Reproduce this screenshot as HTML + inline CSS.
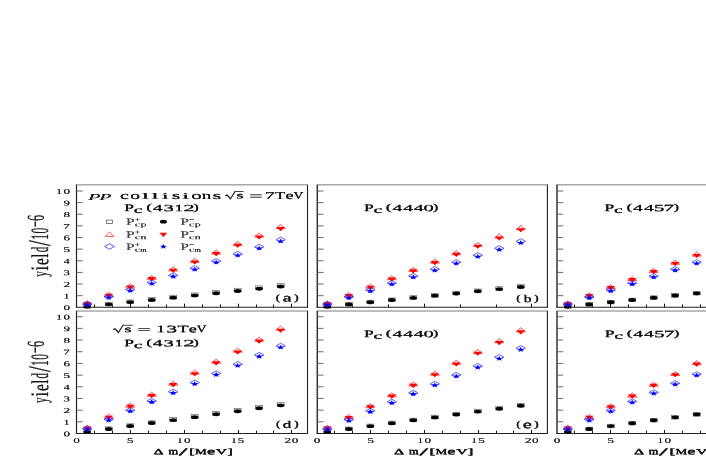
<!DOCTYPE html>
<html><head><meta charset="utf-8"><title>chart</title>
<style>html,body{margin:0;padding:0;background:#fff;}svg{display:block;will-change:transform;}</style></head>
<body>
<svg width="706" height="457" viewBox="0 0 706 457">
<rect width="706" height="457" fill="#fff"/>
<line x1="75.90" y1="184.80" x2="308.00" y2="184.80" stroke="#a8a8a8" stroke-width="1.5"/>
<line x1="76.50" y1="184.80" x2="76.50" y2="307.80" stroke="#222" stroke-width="1.2"/>
<line x1="307.50" y1="184.80" x2="307.50" y2="307.80" stroke="#222" stroke-width="1.1"/>
<line x1="75.90" y1="307.30" x2="308.00" y2="307.30" stroke="#222" stroke-width="1.1"/>
<line x1="76.50" y1="295.67" x2="82.70" y2="295.67" stroke="#5a5a5a" stroke-width="0.9"/>
<line x1="76.50" y1="284.04" x2="82.70" y2="284.04" stroke="#5a5a5a" stroke-width="0.9"/>
<line x1="76.50" y1="272.41" x2="82.70" y2="272.41" stroke="#5a5a5a" stroke-width="0.9"/>
<line x1="76.50" y1="260.78" x2="82.70" y2="260.78" stroke="#5a5a5a" stroke-width="0.9"/>
<line x1="76.50" y1="249.15" x2="82.70" y2="249.15" stroke="#5a5a5a" stroke-width="0.9"/>
<line x1="76.50" y1="237.52" x2="82.70" y2="237.52" stroke="#5a5a5a" stroke-width="0.9"/>
<line x1="76.50" y1="225.89" x2="82.70" y2="225.89" stroke="#5a5a5a" stroke-width="0.9"/>
<line x1="76.50" y1="214.26" x2="82.70" y2="214.26" stroke="#5a5a5a" stroke-width="0.9"/>
<line x1="76.50" y1="202.63" x2="82.70" y2="202.63" stroke="#5a5a5a" stroke-width="0.9"/>
<line x1="76.50" y1="191.00" x2="82.70" y2="191.00" stroke="#5a5a5a" stroke-width="0.9"/>
<line x1="94.50" y1="307.30" x2="94.50" y2="304.50" stroke="#111" stroke-width="1.0"/>
<line x1="112.50" y1="307.30" x2="112.50" y2="304.50" stroke="#111" stroke-width="1.0"/>
<line x1="130.50" y1="307.30" x2="130.50" y2="303.70" stroke="#111" stroke-width="1.0"/>
<line x1="148.50" y1="307.30" x2="148.50" y2="304.50" stroke="#111" stroke-width="1.0"/>
<line x1="166.50" y1="307.30" x2="166.50" y2="304.50" stroke="#111" stroke-width="1.0"/>
<line x1="184.50" y1="307.30" x2="184.50" y2="303.70" stroke="#111" stroke-width="1.0"/>
<line x1="202.50" y1="307.30" x2="202.50" y2="304.50" stroke="#111" stroke-width="1.0"/>
<line x1="220.50" y1="307.30" x2="220.50" y2="304.50" stroke="#111" stroke-width="1.0"/>
<line x1="238.50" y1="307.30" x2="238.50" y2="303.70" stroke="#111" stroke-width="1.0"/>
<line x1="256.50" y1="307.30" x2="256.50" y2="304.50" stroke="#111" stroke-width="1.0"/>
<line x1="273.50" y1="307.30" x2="273.50" y2="304.50" stroke="#111" stroke-width="1.0"/>
<line x1="291.50" y1="307.30" x2="291.50" y2="303.70" stroke="#111" stroke-width="1.0"/>
<rect x="83.75" y="304.57" width="7.0" height="3.6" fill="none" stroke="#555" stroke-width="0.6"/>
<ellipse cx="87.25" cy="306.58" rx="3.7" ry="1.95" fill="#000"/>
<rect x="105.23" y="302.24" width="7.0" height="3.6" fill="none" stroke="#555" stroke-width="0.6"/>
<ellipse cx="108.73" cy="304.35" rx="3.7" ry="1.95" fill="#000"/>
<rect x="126.72" y="299.91" width="7.0" height="3.6" fill="none" stroke="#555" stroke-width="0.6"/>
<ellipse cx="130.22" cy="302.12" rx="3.7" ry="1.95" fill="#000"/>
<rect x="148.21" y="297.58" width="7.0" height="3.6" fill="none" stroke="#555" stroke-width="0.6"/>
<ellipse cx="151.71" cy="299.88" rx="3.7" ry="1.95" fill="#000"/>
<rect x="169.70" y="295.24" width="7.0" height="3.6" fill="none" stroke="#555" stroke-width="0.6"/>
<ellipse cx="173.20" cy="297.65" rx="3.7" ry="1.95" fill="#000"/>
<rect x="191.19" y="292.91" width="7.0" height="3.6" fill="none" stroke="#555" stroke-width="0.6"/>
<ellipse cx="194.69" cy="295.42" rx="3.7" ry="1.95" fill="#000"/>
<rect x="212.69" y="290.58" width="7.0" height="3.6" fill="none" stroke="#555" stroke-width="0.6"/>
<ellipse cx="216.19" cy="293.19" rx="3.7" ry="1.95" fill="#000"/>
<rect x="234.17" y="288.25" width="7.0" height="3.6" fill="none" stroke="#555" stroke-width="0.6"/>
<ellipse cx="237.67" cy="290.95" rx="3.7" ry="1.95" fill="#000"/>
<rect x="255.66" y="285.92" width="7.0" height="3.6" fill="none" stroke="#555" stroke-width="0.6"/>
<ellipse cx="259.16" cy="288.72" rx="3.7" ry="1.95" fill="#000"/>
<rect x="277.15" y="283.59" width="7.0" height="3.6" fill="none" stroke="#555" stroke-width="0.6"/>
<ellipse cx="280.65" cy="286.49" rx="3.7" ry="1.95" fill="#000"/>
<path d="M82.65,304.75 L87.25,300.75 L91.84,304.75 Z" fill="none" stroke="#ff1a1a" stroke-width="0.8"/>
<path d="M82.84,302.09 L91.65,302.09 L87.25,306.19 Z" fill="#ff0000"/>
<path d="M104.14,296.28 L108.73,292.28 L113.33,296.28 Z" fill="none" stroke="#ff1a1a" stroke-width="0.8"/>
<path d="M104.33,293.76 L113.14,293.76 L108.73,297.86 Z" fill="#ff0000"/>
<path d="M125.62,287.80 L130.22,283.80 L134.82,287.80 Z" fill="none" stroke="#ff1a1a" stroke-width="0.8"/>
<path d="M125.82,285.42 L134.62,285.42 L130.22,289.52 Z" fill="#ff0000"/>
<path d="M147.11,279.33 L151.71,275.33 L156.31,279.33 Z" fill="none" stroke="#ff1a1a" stroke-width="0.8"/>
<path d="M147.31,277.09 L156.11,277.09 L151.71,281.19 Z" fill="#ff0000"/>
<path d="M168.60,270.86 L173.20,266.86 L177.80,270.86 Z" fill="none" stroke="#ff1a1a" stroke-width="0.8"/>
<path d="M168.80,268.76 L177.60,268.76 L173.20,272.86 Z" fill="#ff0000"/>
<path d="M190.09,262.39 L194.69,258.39 L199.29,262.39 Z" fill="none" stroke="#ff1a1a" stroke-width="0.8"/>
<path d="M190.29,260.42 L199.09,260.42 L194.69,264.52 Z" fill="#ff0000"/>
<path d="M211.59,253.92 L216.19,249.92 L220.78,253.92 Z" fill="none" stroke="#ff1a1a" stroke-width="0.8"/>
<path d="M211.78,252.09 L220.59,252.09 L216.19,256.19 Z" fill="#ff0000"/>
<path d="M233.07,245.44 L237.67,241.44 L242.27,245.44 Z" fill="none" stroke="#ff1a1a" stroke-width="0.8"/>
<path d="M233.27,243.76 L242.07,243.76 L237.67,247.86 Z" fill="#ff0000"/>
<path d="M254.56,236.97 L259.16,232.97 L263.76,236.97 Z" fill="none" stroke="#ff1a1a" stroke-width="0.8"/>
<path d="M254.76,235.42 L263.56,235.42 L259.16,239.52 Z" fill="#ff0000"/>
<path d="M276.05,228.50 L280.65,224.50 L285.25,228.50 Z" fill="none" stroke="#ff1a1a" stroke-width="0.8"/>
<path d="M276.25,227.09 L285.05,227.09 L280.65,231.19 Z" fill="#ff0000"/>
<path d="M82.55,303.86 L87.25,301.26 L91.95,303.86 L87.25,306.46 Z" fill="none" stroke="#2a2aff" stroke-width="0.75"/>
<polygon points="87.25,301.97 88.23,303.76 91.05,303.84 88.84,305.02 89.60,306.86 87.25,305.81 84.89,306.86 85.65,305.02 83.44,303.84 86.26,303.76" fill="#0000ff"/>
<path d="M104.03,296.74 L108.73,294.14 L113.44,296.74 L108.73,299.34 Z" fill="none" stroke="#2a2aff" stroke-width="0.75"/>
<polygon points="108.73,294.93 109.72,296.71 112.54,296.80 110.33,297.98 111.09,299.82 108.73,298.77 106.38,299.82 107.14,297.98 104.93,296.80 107.75,296.71" fill="#0000ff"/>
<path d="M125.52,289.62 L130.22,287.02 L134.92,289.62 L130.22,292.22 Z" fill="none" stroke="#2a2aff" stroke-width="0.75"/>
<polygon points="130.22,287.89 131.21,289.67 134.03,289.76 131.82,290.94 132.58,292.77 130.22,291.72 127.87,292.77 128.63,290.94 126.42,289.76 129.24,289.67" fill="#0000ff"/>
<path d="M147.01,282.49 L151.71,279.89 L156.41,282.49 L151.71,285.09 Z" fill="none" stroke="#2a2aff" stroke-width="0.75"/>
<polygon points="151.71,280.85 152.70,282.63 155.52,282.71 153.31,283.90 154.07,285.73 151.71,284.68 149.36,285.73 150.12,283.90 147.91,282.71 150.73,282.63" fill="#0000ff"/>
<path d="M168.50,275.37 L173.20,272.77 L177.90,275.37 L173.20,277.97 Z" fill="none" stroke="#2a2aff" stroke-width="0.75"/>
<polygon points="173.20,273.81 174.19,275.59 177.01,275.67 174.80,276.86 175.56,278.69 173.20,277.64 170.85,278.69 171.61,276.86 169.40,275.67 172.22,275.59" fill="#0000ff"/>
<path d="M190.00,268.25 L194.69,265.65 L199.39,268.25 L194.69,270.85 Z" fill="none" stroke="#2a2aff" stroke-width="0.75"/>
<polygon points="194.69,266.76 195.68,268.55 198.50,268.63 196.29,269.81 197.05,271.65 194.69,270.60 192.34,271.65 193.10,269.81 190.89,268.63 193.71,268.55" fill="#0000ff"/>
<path d="M211.49,261.12 L216.19,258.52 L220.88,261.12 L216.19,263.72 Z" fill="none" stroke="#2a2aff" stroke-width="0.75"/>
<polygon points="216.19,259.72 217.17,261.50 219.99,261.59 217.78,262.77 218.54,264.61 216.19,263.55 213.83,264.61 214.59,262.77 212.38,261.59 215.20,261.50" fill="#0000ff"/>
<path d="M232.97,254.00 L237.67,251.40 L242.37,254.00 L237.67,256.60 Z" fill="none" stroke="#2a2aff" stroke-width="0.75"/>
<polygon points="237.67,252.68 238.66,254.46 241.48,254.54 239.27,255.73 240.03,257.56 237.67,256.51 235.32,257.56 236.08,255.73 233.87,254.54 236.69,254.46" fill="#0000ff"/>
<path d="M254.46,246.88 L259.16,244.28 L263.86,246.88 L259.16,249.48 Z" fill="none" stroke="#2a2aff" stroke-width="0.75"/>
<polygon points="259.16,245.64 260.15,247.42 262.97,247.50 260.76,248.69 261.52,250.52 259.16,249.47 256.81,250.52 257.57,248.69 255.36,247.50 258.18,247.42" fill="#0000ff"/>
<path d="M275.95,239.75 L280.65,237.15 L285.35,239.75 L280.65,242.35 Z" fill="none" stroke="#2a2aff" stroke-width="0.75"/>
<polygon points="280.65,238.59 281.64,240.38 284.46,240.46 282.25,241.64 283.01,243.48 280.65,242.43 278.30,243.48 279.06,241.64 276.85,240.46 279.67,240.38" fill="#0000ff"/>
<line x1="316.70" y1="184.80" x2="547.90" y2="184.80" stroke="#a8a8a8" stroke-width="1.5"/>
<line x1="317.30" y1="184.80" x2="317.30" y2="307.80" stroke="#333" stroke-width="1.5"/>
<line x1="547.40" y1="184.80" x2="547.40" y2="307.80" stroke="#222" stroke-width="1.1"/>
<line x1="316.70" y1="307.30" x2="547.90" y2="307.30" stroke="#222" stroke-width="1.1"/>
<line x1="317.30" y1="295.67" x2="323.50" y2="295.67" stroke="#5a5a5a" stroke-width="0.9"/>
<line x1="317.30" y1="284.04" x2="323.50" y2="284.04" stroke="#5a5a5a" stroke-width="0.9"/>
<line x1="317.30" y1="272.41" x2="323.50" y2="272.41" stroke="#5a5a5a" stroke-width="0.9"/>
<line x1="317.30" y1="260.78" x2="323.50" y2="260.78" stroke="#5a5a5a" stroke-width="0.9"/>
<line x1="317.30" y1="249.15" x2="323.50" y2="249.15" stroke="#5a5a5a" stroke-width="0.9"/>
<line x1="317.30" y1="237.52" x2="323.50" y2="237.52" stroke="#5a5a5a" stroke-width="0.9"/>
<line x1="317.30" y1="225.89" x2="323.50" y2="225.89" stroke="#5a5a5a" stroke-width="0.9"/>
<line x1="317.30" y1="214.26" x2="323.50" y2="214.26" stroke="#5a5a5a" stroke-width="0.9"/>
<line x1="317.30" y1="202.63" x2="323.50" y2="202.63" stroke="#5a5a5a" stroke-width="0.9"/>
<line x1="317.30" y1="191.00" x2="323.50" y2="191.00" stroke="#5a5a5a" stroke-width="0.9"/>
<line x1="352.50" y1="307.30" x2="352.50" y2="304.50" stroke="#111" stroke-width="1.0"/>
<line x1="388.50" y1="307.30" x2="388.50" y2="304.50" stroke="#111" stroke-width="1.0"/>
<line x1="424.50" y1="307.30" x2="424.50" y2="303.70" stroke="#111" stroke-width="1.0"/>
<line x1="460.50" y1="307.30" x2="460.50" y2="304.50" stroke="#111" stroke-width="1.0"/>
<line x1="496.50" y1="307.30" x2="496.50" y2="304.50" stroke="#111" stroke-width="1.0"/>
<line x1="531.50" y1="307.30" x2="531.50" y2="303.70" stroke="#111" stroke-width="1.0"/>
<rect x="323.85" y="304.68" width="7.0" height="3.6" fill="none" stroke="#555" stroke-width="0.6"/>
<ellipse cx="327.35" cy="306.61" rx="3.7" ry="1.95" fill="#000"/>
<rect x="345.34" y="302.43" width="7.0" height="3.6" fill="none" stroke="#555" stroke-width="0.6"/>
<ellipse cx="348.84" cy="304.42" rx="3.7" ry="1.95" fill="#000"/>
<rect x="366.83" y="300.19" width="7.0" height="3.6" fill="none" stroke="#555" stroke-width="0.6"/>
<ellipse cx="370.33" cy="302.23" rx="3.7" ry="1.95" fill="#000"/>
<rect x="388.31" y="297.94" width="7.0" height="3.6" fill="none" stroke="#555" stroke-width="0.6"/>
<ellipse cx="391.81" cy="300.05" rx="3.7" ry="1.95" fill="#000"/>
<rect x="409.81" y="295.70" width="7.0" height="3.6" fill="none" stroke="#555" stroke-width="0.6"/>
<ellipse cx="413.31" cy="297.86" rx="3.7" ry="1.95" fill="#000"/>
<rect x="431.30" y="293.45" width="7.0" height="3.6" fill="none" stroke="#555" stroke-width="0.6"/>
<ellipse cx="434.80" cy="295.67" rx="3.7" ry="1.95" fill="#000"/>
<rect x="452.79" y="291.21" width="7.0" height="3.6" fill="none" stroke="#555" stroke-width="0.6"/>
<ellipse cx="456.29" cy="293.49" rx="3.7" ry="1.95" fill="#000"/>
<rect x="474.27" y="288.96" width="7.0" height="3.6" fill="none" stroke="#555" stroke-width="0.6"/>
<ellipse cx="477.77" cy="291.30" rx="3.7" ry="1.95" fill="#000"/>
<rect x="495.76" y="286.71" width="7.0" height="3.6" fill="none" stroke="#555" stroke-width="0.6"/>
<ellipse cx="499.26" cy="289.12" rx="3.7" ry="1.95" fill="#000"/>
<rect x="517.25" y="284.47" width="7.0" height="3.6" fill="none" stroke="#555" stroke-width="0.6"/>
<ellipse cx="520.75" cy="286.93" rx="3.7" ry="1.95" fill="#000"/>
<path d="M322.75,304.81 L327.35,300.81 L331.95,304.81 Z" fill="none" stroke="#ff1a1a" stroke-width="0.8"/>
<path d="M322.95,302.15 L331.75,302.15 L327.35,306.25 Z" fill="#ff0000"/>
<path d="M344.24,296.45 L348.84,292.45 L353.44,296.45 Z" fill="none" stroke="#ff1a1a" stroke-width="0.8"/>
<path d="M344.44,293.93 L353.24,293.93 L348.84,298.03 Z" fill="#ff0000"/>
<path d="M365.73,288.10 L370.33,284.10 L374.93,288.10 Z" fill="none" stroke="#ff1a1a" stroke-width="0.8"/>
<path d="M365.93,285.71 L374.73,285.71 L370.33,289.81 Z" fill="#ff0000"/>
<path d="M387.21,279.74 L391.81,275.74 L396.42,279.74 Z" fill="none" stroke="#ff1a1a" stroke-width="0.8"/>
<path d="M387.42,277.50 L396.21,277.50 L391.81,281.60 Z" fill="#ff0000"/>
<path d="M408.70,271.38 L413.31,267.38 L417.91,271.38 Z" fill="none" stroke="#ff1a1a" stroke-width="0.8"/>
<path d="M408.91,269.28 L417.70,269.28 L413.31,273.38 Z" fill="#ff0000"/>
<path d="M430.19,263.03 L434.80,259.03 L439.40,263.03 Z" fill="none" stroke="#ff1a1a" stroke-width="0.8"/>
<path d="M430.40,261.06 L439.19,261.06 L434.80,265.16 Z" fill="#ff0000"/>
<path d="M451.69,254.67 L456.29,250.67 L460.89,254.67 Z" fill="none" stroke="#ff1a1a" stroke-width="0.8"/>
<path d="M451.89,252.85 L460.69,252.85 L456.29,256.95 Z" fill="#ff0000"/>
<path d="M473.17,246.32 L477.77,242.32 L482.38,246.32 Z" fill="none" stroke="#ff1a1a" stroke-width="0.8"/>
<path d="M473.38,244.63 L482.17,244.63 L477.77,248.73 Z" fill="#ff0000"/>
<path d="M494.66,237.96 L499.26,233.96 L503.87,237.96 Z" fill="none" stroke="#ff1a1a" stroke-width="0.8"/>
<path d="M494.87,236.41 L503.66,236.41 L499.26,240.51 Z" fill="#ff0000"/>
<path d="M516.15,229.60 L520.75,225.60 L525.36,229.60 Z" fill="none" stroke="#ff1a1a" stroke-width="0.8"/>
<path d="M516.36,228.19 L525.15,228.19 L520.75,232.29 Z" fill="#ff0000"/>
<path d="M322.65,303.94 L327.35,301.34 L332.05,303.94 L327.35,306.54 Z" fill="none" stroke="#2a2aff" stroke-width="0.75"/>
<polygon points="327.35,302.06 328.33,303.84 331.15,303.92 328.94,305.11 329.70,306.94 327.35,305.89 324.99,306.94 325.75,305.11 323.54,303.92 326.36,303.84" fill="#0000ff"/>
<path d="M344.14,296.98 L348.84,294.38 L353.54,296.98 L348.84,299.58 Z" fill="none" stroke="#2a2aff" stroke-width="0.75"/>
<polygon points="348.84,295.18 349.82,296.96 352.64,297.04 350.43,298.23 351.19,300.06 348.84,299.01 346.48,300.06 347.24,298.23 345.03,297.04 347.85,296.96" fill="#0000ff"/>
<path d="M365.63,290.02 L370.33,287.42 L375.03,290.02 L370.33,292.62 Z" fill="none" stroke="#2a2aff" stroke-width="0.75"/>
<polygon points="370.33,288.30 371.31,290.08 374.13,290.16 371.92,291.35 372.68,293.18 370.33,292.13 367.97,293.18 368.73,291.35 366.52,290.16 369.34,290.08" fill="#0000ff"/>
<path d="M387.12,283.06 L391.81,280.46 L396.51,283.06 L391.81,285.66 Z" fill="none" stroke="#2a2aff" stroke-width="0.75"/>
<polygon points="391.81,281.42 392.80,283.20 395.62,283.28 393.41,284.47 394.17,286.30 391.81,285.25 389.46,286.30 390.22,284.47 388.01,283.28 390.83,283.20" fill="#0000ff"/>
<path d="M408.61,276.10 L413.31,273.50 L418.00,276.10 L413.31,278.70 Z" fill="none" stroke="#2a2aff" stroke-width="0.75"/>
<polygon points="413.31,274.54 414.29,276.32 417.11,276.40 414.90,277.59 415.66,279.42 413.31,278.37 410.95,279.42 411.71,277.59 409.50,276.40 412.32,276.32" fill="#0000ff"/>
<path d="M430.10,269.14 L434.80,266.54 L439.50,269.14 L434.80,271.74 Z" fill="none" stroke="#2a2aff" stroke-width="0.75"/>
<polygon points="434.80,267.66 435.78,269.44 438.60,269.52 436.39,270.71 437.15,272.54 434.80,271.49 432.44,272.54 433.20,270.71 430.99,269.52 433.81,269.44" fill="#0000ff"/>
<path d="M451.59,262.18 L456.29,259.58 L460.99,262.18 L456.29,264.78 Z" fill="none" stroke="#2a2aff" stroke-width="0.75"/>
<polygon points="456.29,260.78 457.27,262.56 460.09,262.64 457.88,263.83 458.64,265.66 456.29,264.61 453.93,265.66 454.69,263.83 452.48,262.64 455.30,262.56" fill="#0000ff"/>
<path d="M473.07,255.22 L477.77,252.62 L482.47,255.22 L477.77,257.82 Z" fill="none" stroke="#2a2aff" stroke-width="0.75"/>
<polygon points="477.77,253.90 478.76,255.68 481.58,255.77 479.37,256.95 480.13,258.78 477.77,257.73 475.42,258.78 476.18,256.95 473.97,255.77 476.79,255.68" fill="#0000ff"/>
<path d="M494.56,248.26 L499.26,245.66 L503.96,248.26 L499.26,250.86 Z" fill="none" stroke="#2a2aff" stroke-width="0.75"/>
<polygon points="499.26,247.02 500.25,248.80 503.07,248.89 500.86,250.07 501.62,251.90 499.26,250.85 496.91,251.90 497.67,250.07 495.46,248.89 498.28,248.80" fill="#0000ff"/>
<path d="M516.05,241.30 L520.75,238.70 L525.46,241.30 L520.75,243.90 Z" fill="none" stroke="#2a2aff" stroke-width="0.75"/>
<polygon points="520.75,240.14 521.74,241.92 524.56,242.01 522.35,243.19 523.11,245.03 520.75,243.97 518.40,245.03 519.16,243.19 516.95,242.01 519.77,241.92" fill="#0000ff"/>
<line x1="556.40" y1="184.80" x2="800.50" y2="184.80" stroke="#a8a8a8" stroke-width="1.5"/>
<line x1="557.00" y1="184.80" x2="557.00" y2="307.80" stroke="#333" stroke-width="1.5"/>
<line x1="800.00" y1="184.80" x2="800.00" y2="307.80" stroke="#222" stroke-width="1.1"/>
<line x1="556.40" y1="307.30" x2="800.50" y2="307.30" stroke="#222" stroke-width="1.1"/>
<line x1="557.00" y1="295.67" x2="563.20" y2="295.67" stroke="#5a5a5a" stroke-width="0.9"/>
<line x1="557.00" y1="284.04" x2="563.20" y2="284.04" stroke="#5a5a5a" stroke-width="0.9"/>
<line x1="557.00" y1="272.41" x2="563.20" y2="272.41" stroke="#5a5a5a" stroke-width="0.9"/>
<line x1="557.00" y1="260.78" x2="563.20" y2="260.78" stroke="#5a5a5a" stroke-width="0.9"/>
<line x1="557.00" y1="249.15" x2="563.20" y2="249.15" stroke="#5a5a5a" stroke-width="0.9"/>
<line x1="557.00" y1="237.52" x2="563.20" y2="237.52" stroke="#5a5a5a" stroke-width="0.9"/>
<line x1="557.00" y1="225.89" x2="563.20" y2="225.89" stroke="#5a5a5a" stroke-width="0.9"/>
<line x1="557.00" y1="214.26" x2="563.20" y2="214.26" stroke="#5a5a5a" stroke-width="0.9"/>
<line x1="557.00" y1="202.63" x2="563.20" y2="202.63" stroke="#5a5a5a" stroke-width="0.9"/>
<line x1="557.00" y1="191.00" x2="563.20" y2="191.00" stroke="#5a5a5a" stroke-width="0.9"/>
<line x1="574.50" y1="307.30" x2="574.50" y2="304.50" stroke="#111" stroke-width="1.0"/>
<line x1="592.50" y1="307.30" x2="592.50" y2="304.50" stroke="#111" stroke-width="1.0"/>
<line x1="610.50" y1="307.30" x2="610.50" y2="303.70" stroke="#111" stroke-width="1.0"/>
<line x1="628.50" y1="307.30" x2="628.50" y2="304.50" stroke="#111" stroke-width="1.0"/>
<line x1="646.50" y1="307.30" x2="646.50" y2="304.50" stroke="#111" stroke-width="1.0"/>
<line x1="664.50" y1="307.30" x2="664.50" y2="303.70" stroke="#111" stroke-width="1.0"/>
<line x1="682.50" y1="307.30" x2="682.50" y2="304.50" stroke="#111" stroke-width="1.0"/>
<line x1="700.50" y1="307.30" x2="700.50" y2="304.50" stroke="#111" stroke-width="1.0"/>
<line x1="718.50" y1="307.30" x2="718.50" y2="303.70" stroke="#111" stroke-width="1.0"/>
<line x1="736.50" y1="307.30" x2="736.50" y2="304.50" stroke="#111" stroke-width="1.0"/>
<line x1="754.50" y1="307.30" x2="754.50" y2="304.50" stroke="#111" stroke-width="1.0"/>
<line x1="772.50" y1="307.30" x2="772.50" y2="303.70" stroke="#111" stroke-width="1.0"/>
<rect x="564.25" y="304.76" width="7.0" height="3.6" fill="none" stroke="#555" stroke-width="0.6"/>
<ellipse cx="567.75" cy="306.60" rx="3.7" ry="1.95" fill="#000"/>
<rect x="585.74" y="302.54" width="7.0" height="3.6" fill="none" stroke="#555" stroke-width="0.6"/>
<ellipse cx="589.24" cy="304.39" rx="3.7" ry="1.95" fill="#000"/>
<rect x="607.23" y="300.31" width="7.0" height="3.6" fill="none" stroke="#555" stroke-width="0.6"/>
<ellipse cx="610.73" cy="302.18" rx="3.7" ry="1.95" fill="#000"/>
<rect x="628.72" y="298.09" width="7.0" height="3.6" fill="none" stroke="#555" stroke-width="0.6"/>
<ellipse cx="632.22" cy="299.97" rx="3.7" ry="1.95" fill="#000"/>
<rect x="650.21" y="295.87" width="7.0" height="3.6" fill="none" stroke="#555" stroke-width="0.6"/>
<ellipse cx="653.71" cy="297.76" rx="3.7" ry="1.95" fill="#000"/>
<rect x="671.69" y="293.64" width="7.0" height="3.6" fill="none" stroke="#555" stroke-width="0.6"/>
<ellipse cx="675.19" cy="295.55" rx="3.7" ry="1.95" fill="#000"/>
<rect x="693.18" y="291.42" width="7.0" height="3.6" fill="none" stroke="#555" stroke-width="0.6"/>
<ellipse cx="696.68" cy="293.34" rx="3.7" ry="1.95" fill="#000"/>
<rect x="714.67" y="289.19" width="7.0" height="3.6" fill="none" stroke="#555" stroke-width="0.6"/>
<ellipse cx="718.17" cy="291.13" rx="3.7" ry="1.95" fill="#000"/>
<rect x="736.16" y="286.97" width="7.0" height="3.6" fill="none" stroke="#555" stroke-width="0.6"/>
<ellipse cx="739.66" cy="288.92" rx="3.7" ry="1.95" fill="#000"/>
<rect x="757.65" y="284.74" width="7.0" height="3.6" fill="none" stroke="#555" stroke-width="0.6"/>
<ellipse cx="761.15" cy="286.71" rx="3.7" ry="1.95" fill="#000"/>
<path d="M563.14,305.00 L567.75,301.00 L572.35,305.00 Z" fill="none" stroke="#ff1a1a" stroke-width="0.8"/>
<path d="M563.35,302.15 L572.14,302.15 L567.75,306.25 Z" fill="#ff0000"/>
<path d="M584.63,296.84 L589.24,292.84 L593.84,296.84 Z" fill="none" stroke="#ff1a1a" stroke-width="0.8"/>
<path d="M584.84,294.11 L593.63,294.11 L589.24,298.21 Z" fill="#ff0000"/>
<path d="M606.12,288.68 L610.73,284.68 L615.33,288.68 Z" fill="none" stroke="#ff1a1a" stroke-width="0.8"/>
<path d="M606.33,286.07 L615.12,286.07 L610.73,290.17 Z" fill="#ff0000"/>
<path d="M627.62,280.52 L632.22,276.52 L636.82,280.52 Z" fill="none" stroke="#ff1a1a" stroke-width="0.8"/>
<path d="M627.82,278.03 L636.62,278.03 L632.22,282.13 Z" fill="#ff0000"/>
<path d="M649.11,272.36 L653.71,268.36 L658.31,272.36 Z" fill="none" stroke="#ff1a1a" stroke-width="0.8"/>
<path d="M649.31,269.99 L658.11,269.99 L653.71,274.09 Z" fill="#ff0000"/>
<path d="M670.59,264.21 L675.19,260.21 L679.79,264.21 Z" fill="none" stroke="#ff1a1a" stroke-width="0.8"/>
<path d="M670.79,261.96 L679.59,261.96 L675.19,266.06 Z" fill="#ff0000"/>
<path d="M692.08,256.05 L696.68,252.05 L701.28,256.05 Z" fill="none" stroke="#ff1a1a" stroke-width="0.8"/>
<path d="M692.28,253.92 L701.08,253.92 L696.68,258.02 Z" fill="#ff0000"/>
<path d="M713.57,247.89 L718.17,243.89 L722.77,247.89 Z" fill="none" stroke="#ff1a1a" stroke-width="0.8"/>
<path d="M713.77,245.88 L722.57,245.88 L718.17,249.98 Z" fill="#ff0000"/>
<path d="M735.06,239.73 L739.66,235.73 L744.26,239.73 Z" fill="none" stroke="#ff1a1a" stroke-width="0.8"/>
<path d="M735.26,237.84 L744.06,237.84 L739.66,241.94 Z" fill="#ff0000"/>
<path d="M756.55,231.57 L761.15,227.57 L765.75,231.57 Z" fill="none" stroke="#ff1a1a" stroke-width="0.8"/>
<path d="M756.75,229.80 L765.55,229.80 L761.15,233.90 Z" fill="#ff0000"/>
<path d="M563.04,303.98 L567.75,301.38 L572.45,303.98 L567.75,306.58 Z" fill="none" stroke="#2a2aff" stroke-width="0.75"/>
<polygon points="567.75,301.98 568.73,303.77 571.55,303.85 569.34,305.03 570.10,306.87 567.75,305.82 565.39,306.87 566.15,305.03 563.94,303.85 566.76,303.77" fill="#0000ff"/>
<path d="M584.53,297.03 L589.24,294.43 L593.94,297.03 L589.24,299.63 Z" fill="none" stroke="#2a2aff" stroke-width="0.75"/>
<polygon points="589.24,295.10 590.22,296.88 593.04,296.96 590.83,298.15 591.59,299.98 589.24,298.93 586.88,299.98 587.64,298.15 585.43,296.96 588.25,296.88" fill="#0000ff"/>
<path d="M606.02,290.07 L610.73,287.47 L615.43,290.07 L610.73,292.67 Z" fill="none" stroke="#2a2aff" stroke-width="0.75"/>
<polygon points="610.73,288.21 611.71,289.99 614.53,290.08 612.32,291.26 613.08,293.10 610.73,292.05 608.37,293.10 609.13,291.26 606.92,290.08 609.74,289.99" fill="#0000ff"/>
<path d="M627.51,283.11 L632.22,280.51 L636.92,283.11 L632.22,285.71 Z" fill="none" stroke="#2a2aff" stroke-width="0.75"/>
<polygon points="632.22,281.32 633.20,283.11 636.02,283.19 633.81,284.38 634.57,286.21 632.22,285.16 629.86,286.21 630.62,284.38 628.41,283.19 631.23,283.11" fill="#0000ff"/>
<path d="M649.00,276.16 L653.71,273.56 L658.41,276.16 L653.71,278.76 Z" fill="none" stroke="#2a2aff" stroke-width="0.75"/>
<polygon points="653.71,274.44 654.69,276.22 657.51,276.30 655.30,277.49 656.06,279.32 653.71,278.27 651.35,279.32 652.11,277.49 649.90,276.30 652.72,276.22" fill="#0000ff"/>
<path d="M670.49,269.20 L675.19,266.60 L679.89,269.20 L675.19,271.80 Z" fill="none" stroke="#2a2aff" stroke-width="0.75"/>
<polygon points="675.19,267.55 676.18,269.33 679.00,269.42 676.79,270.60 677.55,272.44 675.19,271.39 672.84,272.44 673.60,270.60 671.39,269.42 674.21,269.33" fill="#0000ff"/>
<path d="M691.98,262.25 L696.68,259.65 L701.38,262.25 L696.68,264.85 Z" fill="none" stroke="#2a2aff" stroke-width="0.75"/>
<polygon points="696.68,260.67 697.67,262.45 700.49,262.53 698.28,263.72 699.04,265.55 696.68,264.50 694.33,265.55 695.09,263.72 692.88,262.53 695.70,262.45" fill="#0000ff"/>
<path d="M713.47,255.29 L718.17,252.69 L722.88,255.29 L718.17,257.89 Z" fill="none" stroke="#2a2aff" stroke-width="0.75"/>
<polygon points="718.17,253.78 719.16,255.56 721.98,255.64 719.77,256.83 720.53,258.66 718.17,257.61 715.82,258.66 716.58,256.83 714.37,255.64 717.19,255.56" fill="#0000ff"/>
<path d="M734.96,248.33 L739.66,245.73 L744.37,248.33 L739.66,250.93 Z" fill="none" stroke="#2a2aff" stroke-width="0.75"/>
<polygon points="739.66,246.89 740.65,248.67 743.47,248.76 741.26,249.94 742.02,251.78 739.66,250.73 737.31,251.78 738.07,249.94 735.86,248.76 738.68,248.67" fill="#0000ff"/>
<path d="M756.45,241.38 L761.15,238.78 L765.86,241.38 L761.15,243.98 Z" fill="none" stroke="#2a2aff" stroke-width="0.75"/>
<polygon points="761.15,240.01 762.14,241.79 764.96,241.87 762.75,243.06 763.51,244.89 761.15,243.84 758.80,244.89 759.56,243.06 757.35,241.87 760.17,241.79" fill="#0000ff"/>
<line x1="75.90" y1="310.90" x2="308.00" y2="310.90" stroke="#a8a8a8" stroke-width="1.5"/>
<line x1="76.50" y1="310.90" x2="76.50" y2="434.00" stroke="#222" stroke-width="1.2"/>
<line x1="307.50" y1="310.90" x2="307.50" y2="434.00" stroke="#222" stroke-width="1.1"/>
<line x1="75.90" y1="433.50" x2="308.00" y2="433.50" stroke="#222" stroke-width="1.1"/>
<line x1="76.50" y1="421.82" x2="82.70" y2="421.82" stroke="#5a5a5a" stroke-width="0.9"/>
<line x1="76.50" y1="410.14" x2="82.70" y2="410.14" stroke="#5a5a5a" stroke-width="0.9"/>
<line x1="76.50" y1="398.46" x2="82.70" y2="398.46" stroke="#5a5a5a" stroke-width="0.9"/>
<line x1="76.50" y1="386.78" x2="82.70" y2="386.78" stroke="#5a5a5a" stroke-width="0.9"/>
<line x1="76.50" y1="375.10" x2="82.70" y2="375.10" stroke="#5a5a5a" stroke-width="0.9"/>
<line x1="76.50" y1="363.42" x2="82.70" y2="363.42" stroke="#5a5a5a" stroke-width="0.9"/>
<line x1="76.50" y1="351.74" x2="82.70" y2="351.74" stroke="#5a5a5a" stroke-width="0.9"/>
<line x1="76.50" y1="340.06" x2="82.70" y2="340.06" stroke="#5a5a5a" stroke-width="0.9"/>
<line x1="76.50" y1="328.38" x2="82.70" y2="328.38" stroke="#5a5a5a" stroke-width="0.9"/>
<line x1="76.50" y1="316.70" x2="82.70" y2="316.70" stroke="#5a5a5a" stroke-width="0.9"/>
<line x1="94.50" y1="433.50" x2="94.50" y2="430.70" stroke="#111" stroke-width="1.0"/>
<line x1="112.50" y1="433.50" x2="112.50" y2="430.70" stroke="#111" stroke-width="1.0"/>
<line x1="130.50" y1="433.50" x2="130.50" y2="429.90" stroke="#111" stroke-width="1.0"/>
<line x1="148.50" y1="433.50" x2="148.50" y2="430.70" stroke="#111" stroke-width="1.0"/>
<line x1="166.50" y1="433.50" x2="166.50" y2="430.70" stroke="#111" stroke-width="1.0"/>
<line x1="184.50" y1="433.50" x2="184.50" y2="429.90" stroke="#111" stroke-width="1.0"/>
<line x1="202.50" y1="433.50" x2="202.50" y2="430.70" stroke="#111" stroke-width="1.0"/>
<line x1="220.50" y1="433.50" x2="220.50" y2="430.70" stroke="#111" stroke-width="1.0"/>
<line x1="238.50" y1="433.50" x2="238.50" y2="429.90" stroke="#111" stroke-width="1.0"/>
<line x1="256.50" y1="433.50" x2="256.50" y2="430.70" stroke="#111" stroke-width="1.0"/>
<line x1="273.50" y1="433.50" x2="273.50" y2="430.70" stroke="#111" stroke-width="1.0"/>
<line x1="291.50" y1="433.50" x2="291.50" y2="429.90" stroke="#111" stroke-width="1.0"/>
<rect x="83.75" y="429.91" width="7.0" height="3.6" fill="none" stroke="#555" stroke-width="0.6"/>
<ellipse cx="87.25" cy="431.92" rx="3.7" ry="1.95" fill="#000"/>
<rect x="105.23" y="426.85" width="7.0" height="3.6" fill="none" stroke="#555" stroke-width="0.6"/>
<ellipse cx="108.73" cy="428.97" rx="3.7" ry="1.95" fill="#000"/>
<rect x="126.72" y="423.80" width="7.0" height="3.6" fill="none" stroke="#555" stroke-width="0.6"/>
<ellipse cx="130.22" cy="426.01" rx="3.7" ry="1.95" fill="#000"/>
<rect x="148.21" y="420.75" width="7.0" height="3.6" fill="none" stroke="#555" stroke-width="0.6"/>
<ellipse cx="151.71" cy="423.06" rx="3.7" ry="1.95" fill="#000"/>
<rect x="169.70" y="417.69" width="7.0" height="3.6" fill="none" stroke="#555" stroke-width="0.6"/>
<ellipse cx="173.20" cy="420.10" rx="3.7" ry="1.95" fill="#000"/>
<rect x="191.19" y="414.64" width="7.0" height="3.6" fill="none" stroke="#555" stroke-width="0.6"/>
<ellipse cx="194.69" cy="417.15" rx="3.7" ry="1.95" fill="#000"/>
<rect x="212.69" y="411.59" width="7.0" height="3.6" fill="none" stroke="#555" stroke-width="0.6"/>
<ellipse cx="216.19" cy="414.19" rx="3.7" ry="1.95" fill="#000"/>
<rect x="234.17" y="408.53" width="7.0" height="3.6" fill="none" stroke="#555" stroke-width="0.6"/>
<ellipse cx="237.67" cy="411.24" rx="3.7" ry="1.95" fill="#000"/>
<rect x="255.66" y="405.48" width="7.0" height="3.6" fill="none" stroke="#555" stroke-width="0.6"/>
<ellipse cx="259.16" cy="408.28" rx="3.7" ry="1.95" fill="#000"/>
<rect x="277.15" y="402.43" width="7.0" height="3.6" fill="none" stroke="#555" stroke-width="0.6"/>
<ellipse cx="280.65" cy="405.33" rx="3.7" ry="1.95" fill="#000"/>
<path d="M82.65,429.18 L87.25,425.18 L91.84,429.18 Z" fill="none" stroke="#ff1a1a" stroke-width="0.8"/>
<path d="M82.84,426.52 L91.65,426.52 L87.25,430.62 Z" fill="#ff0000"/>
<path d="M104.14,418.17 L108.73,414.17 L113.33,418.17 Z" fill="none" stroke="#ff1a1a" stroke-width="0.8"/>
<path d="M104.33,415.65 L113.14,415.65 L108.73,419.75 Z" fill="#ff0000"/>
<path d="M125.62,407.17 L130.22,403.17 L134.82,407.17 Z" fill="none" stroke="#ff1a1a" stroke-width="0.8"/>
<path d="M125.82,404.78 L134.62,404.78 L130.22,408.88 Z" fill="#ff0000"/>
<path d="M147.11,396.16 L151.71,392.16 L156.31,396.16 Z" fill="none" stroke="#ff1a1a" stroke-width="0.8"/>
<path d="M147.31,393.91 L156.11,393.91 L151.71,398.01 Z" fill="#ff0000"/>
<path d="M168.60,385.15 L173.20,381.15 L177.80,385.15 Z" fill="none" stroke="#ff1a1a" stroke-width="0.8"/>
<path d="M168.80,383.05 L177.60,383.05 L173.20,387.15 Z" fill="#ff0000"/>
<path d="M190.09,374.14 L194.69,370.14 L199.29,374.14 Z" fill="none" stroke="#ff1a1a" stroke-width="0.8"/>
<path d="M190.29,372.18 L199.09,372.18 L194.69,376.28 Z" fill="#ff0000"/>
<path d="M211.59,363.13 L216.19,359.13 L220.78,363.13 Z" fill="none" stroke="#ff1a1a" stroke-width="0.8"/>
<path d="M211.78,361.31 L220.59,361.31 L216.19,365.41 Z" fill="#ff0000"/>
<path d="M233.07,352.13 L237.67,348.13 L242.27,352.13 Z" fill="none" stroke="#ff1a1a" stroke-width="0.8"/>
<path d="M233.27,350.44 L242.07,350.44 L237.67,354.54 Z" fill="#ff0000"/>
<path d="M254.56,341.12 L259.16,337.12 L263.76,341.12 Z" fill="none" stroke="#ff1a1a" stroke-width="0.8"/>
<path d="M254.76,339.57 L263.56,339.57 L259.16,343.67 Z" fill="#ff0000"/>
<path d="M276.05,330.11 L280.65,326.11 L285.25,330.11 Z" fill="none" stroke="#ff1a1a" stroke-width="0.8"/>
<path d="M276.25,328.70 L285.05,328.70 L280.65,332.80 Z" fill="#ff0000"/>
<path d="M82.55,428.53 L87.25,425.93 L91.95,428.53 L87.25,431.13 Z" fill="none" stroke="#2a2aff" stroke-width="0.75"/>
<polygon points="87.25,426.64 88.23,428.43 91.05,428.51 88.84,429.69 89.60,431.53 87.25,430.48 84.89,431.53 85.65,429.69 83.44,428.51 86.26,428.43" fill="#0000ff"/>
<path d="M104.03,419.35 L108.73,416.75 L113.44,419.35 L108.73,421.95 Z" fill="none" stroke="#2a2aff" stroke-width="0.75"/>
<polygon points="108.73,417.54 109.72,419.32 112.54,419.40 110.33,420.59 111.09,422.42 108.73,421.37 106.38,422.42 107.14,420.59 104.93,419.40 107.75,419.32" fill="#0000ff"/>
<path d="M125.52,410.16 L130.22,407.56 L134.92,410.16 L130.22,412.76 Z" fill="none" stroke="#2a2aff" stroke-width="0.75"/>
<polygon points="130.22,408.43 131.21,410.22 134.03,410.30 131.82,411.48 132.58,413.32 130.22,412.27 127.87,413.32 128.63,411.48 126.42,410.30 129.24,410.22" fill="#0000ff"/>
<path d="M147.01,400.97 L151.71,398.37 L156.41,400.97 L151.71,403.57 Z" fill="none" stroke="#2a2aff" stroke-width="0.75"/>
<polygon points="151.71,399.33 152.70,401.11 155.52,401.19 153.31,402.38 154.07,404.21 151.71,403.16 149.36,404.21 150.12,402.38 147.91,401.19 150.73,401.11" fill="#0000ff"/>
<path d="M168.50,391.79 L173.20,389.19 L177.90,391.79 L173.20,394.39 Z" fill="none" stroke="#2a2aff" stroke-width="0.75"/>
<polygon points="173.20,390.22 174.19,392.01 177.01,392.09 174.80,393.27 175.56,395.11 173.20,394.06 170.85,395.11 171.61,393.27 169.40,392.09 172.22,392.01" fill="#0000ff"/>
<path d="M190.00,382.60 L194.69,380.00 L199.39,382.60 L194.69,385.20 Z" fill="none" stroke="#2a2aff" stroke-width="0.75"/>
<polygon points="194.69,381.12 195.68,382.90 198.50,382.98 196.29,384.17 197.05,386.00 194.69,384.95 192.34,386.00 193.10,384.17 190.89,382.98 193.71,382.90" fill="#0000ff"/>
<path d="M211.49,373.42 L216.19,370.82 L220.88,373.42 L216.19,376.02 Z" fill="none" stroke="#2a2aff" stroke-width="0.75"/>
<polygon points="216.19,372.01 217.17,373.79 219.99,373.88 217.78,375.06 218.54,376.90 216.19,375.85 213.83,376.90 214.59,375.06 212.38,373.88 215.20,373.79" fill="#0000ff"/>
<path d="M232.97,364.23 L237.67,361.63 L242.37,364.23 L237.67,366.83 Z" fill="none" stroke="#2a2aff" stroke-width="0.75"/>
<polygon points="237.67,362.91 238.66,364.69 241.48,364.77 239.27,365.96 240.03,367.79 237.67,366.74 235.32,367.79 236.08,365.96 233.87,364.77 236.69,364.69" fill="#0000ff"/>
<path d="M254.46,355.04 L259.16,352.44 L263.86,355.04 L259.16,357.64 Z" fill="none" stroke="#2a2aff" stroke-width="0.75"/>
<polygon points="259.16,353.80 260.15,355.58 262.97,355.67 260.76,356.85 261.52,358.69 259.16,357.64 256.81,358.69 257.57,356.85 255.36,355.67 258.18,355.58" fill="#0000ff"/>
<path d="M275.95,345.86 L280.65,343.26 L285.35,345.86 L280.65,348.46 Z" fill="none" stroke="#2a2aff" stroke-width="0.75"/>
<polygon points="280.65,344.70 281.64,346.48 284.46,346.56 282.25,347.75 283.01,349.58 280.65,348.53 278.30,349.58 279.06,347.75 276.85,346.56 279.67,346.48" fill="#0000ff"/>
<line x1="316.70" y1="310.90" x2="547.90" y2="310.90" stroke="#a8a8a8" stroke-width="1.5"/>
<line x1="317.30" y1="310.90" x2="317.30" y2="434.00" stroke="#333" stroke-width="1.5"/>
<line x1="547.40" y1="310.90" x2="547.40" y2="434.00" stroke="#222" stroke-width="1.1"/>
<line x1="316.70" y1="433.50" x2="547.90" y2="433.50" stroke="#222" stroke-width="1.1"/>
<line x1="317.30" y1="421.82" x2="323.50" y2="421.82" stroke="#5a5a5a" stroke-width="0.9"/>
<line x1="317.30" y1="410.14" x2="323.50" y2="410.14" stroke="#5a5a5a" stroke-width="0.9"/>
<line x1="317.30" y1="398.46" x2="323.50" y2="398.46" stroke="#5a5a5a" stroke-width="0.9"/>
<line x1="317.30" y1="386.78" x2="323.50" y2="386.78" stroke="#5a5a5a" stroke-width="0.9"/>
<line x1="317.30" y1="375.10" x2="323.50" y2="375.10" stroke="#5a5a5a" stroke-width="0.9"/>
<line x1="317.30" y1="363.42" x2="323.50" y2="363.42" stroke="#5a5a5a" stroke-width="0.9"/>
<line x1="317.30" y1="351.74" x2="323.50" y2="351.74" stroke="#5a5a5a" stroke-width="0.9"/>
<line x1="317.30" y1="340.06" x2="323.50" y2="340.06" stroke="#5a5a5a" stroke-width="0.9"/>
<line x1="317.30" y1="328.38" x2="323.50" y2="328.38" stroke="#5a5a5a" stroke-width="0.9"/>
<line x1="317.30" y1="316.70" x2="323.50" y2="316.70" stroke="#5a5a5a" stroke-width="0.9"/>
<line x1="334.50" y1="433.50" x2="334.50" y2="430.70" stroke="#111" stroke-width="1.0"/>
<line x1="352.50" y1="433.50" x2="352.50" y2="430.70" stroke="#111" stroke-width="1.0"/>
<line x1="370.50" y1="433.50" x2="370.50" y2="429.90" stroke="#111" stroke-width="1.0"/>
<line x1="388.50" y1="433.50" x2="388.50" y2="430.70" stroke="#111" stroke-width="1.0"/>
<line x1="406.50" y1="433.50" x2="406.50" y2="430.70" stroke="#111" stroke-width="1.0"/>
<line x1="424.50" y1="433.50" x2="424.50" y2="429.90" stroke="#111" stroke-width="1.0"/>
<line x1="442.50" y1="433.50" x2="442.50" y2="430.70" stroke="#111" stroke-width="1.0"/>
<line x1="460.50" y1="433.50" x2="460.50" y2="430.70" stroke="#111" stroke-width="1.0"/>
<line x1="478.50" y1="433.50" x2="478.50" y2="429.90" stroke="#111" stroke-width="1.0"/>
<line x1="496.50" y1="433.50" x2="496.50" y2="430.70" stroke="#111" stroke-width="1.0"/>
<line x1="513.50" y1="433.50" x2="513.50" y2="430.70" stroke="#111" stroke-width="1.0"/>
<line x1="531.50" y1="433.50" x2="531.50" y2="429.90" stroke="#111" stroke-width="1.0"/>
<rect x="323.85" y="430.02" width="7.0" height="3.6" fill="none" stroke="#555" stroke-width="0.6"/>
<ellipse cx="327.35" cy="431.95" rx="3.7" ry="1.95" fill="#000"/>
<rect x="345.34" y="427.05" width="7.0" height="3.6" fill="none" stroke="#555" stroke-width="0.6"/>
<ellipse cx="348.84" cy="429.04" rx="3.7" ry="1.95" fill="#000"/>
<rect x="366.83" y="424.08" width="7.0" height="3.6" fill="none" stroke="#555" stroke-width="0.6"/>
<ellipse cx="370.33" cy="426.13" rx="3.7" ry="1.95" fill="#000"/>
<rect x="388.31" y="421.12" width="7.0" height="3.6" fill="none" stroke="#555" stroke-width="0.6"/>
<ellipse cx="391.81" cy="423.22" rx="3.7" ry="1.95" fill="#000"/>
<rect x="409.81" y="418.15" width="7.0" height="3.6" fill="none" stroke="#555" stroke-width="0.6"/>
<ellipse cx="413.31" cy="420.31" rx="3.7" ry="1.95" fill="#000"/>
<rect x="431.30" y="415.18" width="7.0" height="3.6" fill="none" stroke="#555" stroke-width="0.6"/>
<ellipse cx="434.80" cy="417.40" rx="3.7" ry="1.95" fill="#000"/>
<rect x="452.79" y="412.21" width="7.0" height="3.6" fill="none" stroke="#555" stroke-width="0.6"/>
<ellipse cx="456.29" cy="414.50" rx="3.7" ry="1.95" fill="#000"/>
<rect x="474.27" y="409.25" width="7.0" height="3.6" fill="none" stroke="#555" stroke-width="0.6"/>
<ellipse cx="477.77" cy="411.59" rx="3.7" ry="1.95" fill="#000"/>
<rect x="495.76" y="406.28" width="7.0" height="3.6" fill="none" stroke="#555" stroke-width="0.6"/>
<ellipse cx="499.26" cy="408.68" rx="3.7" ry="1.95" fill="#000"/>
<rect x="517.25" y="403.31" width="7.0" height="3.6" fill="none" stroke="#555" stroke-width="0.6"/>
<ellipse cx="520.75" cy="405.77" rx="3.7" ry="1.95" fill="#000"/>
<path d="M322.75,429.27 L327.35,425.27 L331.95,429.27 Z" fill="none" stroke="#ff1a1a" stroke-width="0.8"/>
<path d="M322.95,426.61 L331.75,426.61 L327.35,430.71 Z" fill="#ff0000"/>
<path d="M344.24,418.44 L348.84,414.44 L353.44,418.44 Z" fill="none" stroke="#ff1a1a" stroke-width="0.8"/>
<path d="M344.44,415.91 L353.24,415.91 L348.84,420.01 Z" fill="#ff0000"/>
<path d="M365.73,407.60 L370.33,403.60 L374.93,407.60 Z" fill="none" stroke="#ff1a1a" stroke-width="0.8"/>
<path d="M365.93,405.22 L374.73,405.22 L370.33,409.32 Z" fill="#ff0000"/>
<path d="M387.21,396.77 L391.81,392.77 L396.42,396.77 Z" fill="none" stroke="#ff1a1a" stroke-width="0.8"/>
<path d="M387.42,394.53 L396.21,394.53 L391.81,398.63 Z" fill="#ff0000"/>
<path d="M408.70,385.94 L413.31,381.94 L417.91,385.94 Z" fill="none" stroke="#ff1a1a" stroke-width="0.8"/>
<path d="M408.91,383.83 L417.70,383.83 L413.31,387.93 Z" fill="#ff0000"/>
<path d="M430.19,375.11 L434.80,371.11 L439.40,375.11 Z" fill="none" stroke="#ff1a1a" stroke-width="0.8"/>
<path d="M430.40,373.14 L439.19,373.14 L434.80,377.24 Z" fill="#ff0000"/>
<path d="M451.69,364.27 L456.29,360.27 L460.89,364.27 Z" fill="none" stroke="#ff1a1a" stroke-width="0.8"/>
<path d="M451.89,362.45 L460.69,362.45 L456.29,366.55 Z" fill="#ff0000"/>
<path d="M473.17,353.44 L477.77,349.44 L482.38,353.44 Z" fill="none" stroke="#ff1a1a" stroke-width="0.8"/>
<path d="M473.38,351.75 L482.17,351.75 L477.77,355.85 Z" fill="#ff0000"/>
<path d="M494.66,342.61 L499.26,338.61 L503.87,342.61 Z" fill="none" stroke="#ff1a1a" stroke-width="0.8"/>
<path d="M494.87,341.06 L503.66,341.06 L499.26,345.16 Z" fill="#ff0000"/>
<path d="M516.15,331.78 L520.75,327.78 L525.36,331.78 Z" fill="none" stroke="#ff1a1a" stroke-width="0.8"/>
<path d="M516.36,330.37 L525.15,330.37 L520.75,334.47 Z" fill="#ff0000"/>
<path d="M322.65,428.65 L327.35,426.05 L332.05,428.65 L327.35,431.25 Z" fill="none" stroke="#2a2aff" stroke-width="0.75"/>
<polygon points="327.35,426.77 328.33,428.55 331.15,428.63 328.94,429.82 329.70,431.65 327.35,430.60 324.99,431.65 325.75,429.82 323.54,428.63 326.36,428.55" fill="#0000ff"/>
<path d="M344.14,419.71 L348.84,417.11 L353.54,419.71 L348.84,422.31 Z" fill="none" stroke="#2a2aff" stroke-width="0.75"/>
<polygon points="348.84,417.91 349.82,419.69 352.64,419.77 350.43,420.96 351.19,422.79 348.84,421.74 346.48,422.79 347.24,420.96 345.03,419.77 347.85,419.69" fill="#0000ff"/>
<path d="M365.63,410.77 L370.33,408.17 L375.03,410.77 L370.33,413.37 Z" fill="none" stroke="#2a2aff" stroke-width="0.75"/>
<polygon points="370.33,409.05 371.31,410.83 374.13,410.91 371.92,412.10 372.68,413.93 370.33,412.88 367.97,413.93 368.73,412.10 366.52,410.91 369.34,410.83" fill="#0000ff"/>
<path d="M387.12,401.83 L391.81,399.23 L396.51,401.83 L391.81,404.43 Z" fill="none" stroke="#2a2aff" stroke-width="0.75"/>
<polygon points="391.81,400.19 392.80,401.97 395.62,402.05 393.41,403.24 394.17,405.07 391.81,404.02 389.46,405.07 390.22,403.24 388.01,402.05 390.83,401.97" fill="#0000ff"/>
<path d="M408.61,392.89 L413.31,390.29 L418.00,392.89 L413.31,395.49 Z" fill="none" stroke="#2a2aff" stroke-width="0.75"/>
<polygon points="413.31,391.33 414.29,393.11 417.11,393.19 414.90,394.38 415.66,396.21 413.31,395.16 410.95,396.21 411.71,394.38 409.50,393.19 412.32,393.11" fill="#0000ff"/>
<path d="M430.10,383.95 L434.80,381.35 L439.50,383.95 L434.80,386.55 Z" fill="none" stroke="#2a2aff" stroke-width="0.75"/>
<polygon points="434.80,382.47 435.78,384.25 438.60,384.33 436.39,385.52 437.15,387.35 434.80,386.30 432.44,387.35 433.20,385.52 430.99,384.33 433.81,384.25" fill="#0000ff"/>
<path d="M451.59,375.01 L456.29,372.41 L460.99,375.01 L456.29,377.61 Z" fill="none" stroke="#2a2aff" stroke-width="0.75"/>
<polygon points="456.29,373.61 457.27,375.39 460.09,375.47 457.88,376.66 458.64,378.49 456.29,377.44 453.93,378.49 454.69,376.66 452.48,375.47 455.30,375.39" fill="#0000ff"/>
<path d="M473.07,366.07 L477.77,363.47 L482.47,366.07 L477.77,368.67 Z" fill="none" stroke="#2a2aff" stroke-width="0.75"/>
<polygon points="477.77,364.75 478.76,366.53 481.58,366.61 479.37,367.80 480.13,369.63 477.77,368.58 475.42,369.63 476.18,367.80 473.97,366.61 476.79,366.53" fill="#0000ff"/>
<path d="M494.56,357.13 L499.26,354.53 L503.96,357.13 L499.26,359.73 Z" fill="none" stroke="#2a2aff" stroke-width="0.75"/>
<polygon points="499.26,355.89 500.25,357.67 503.07,357.75 500.86,358.94 501.62,360.77 499.26,359.72 496.91,360.77 497.67,358.94 495.46,357.75 498.28,357.67" fill="#0000ff"/>
<path d="M516.05,348.19 L520.75,345.59 L525.46,348.19 L520.75,350.79 Z" fill="none" stroke="#2a2aff" stroke-width="0.75"/>
<polygon points="520.75,347.03 521.74,348.81 524.56,348.89 522.35,350.08 523.11,351.91 520.75,350.86 518.40,351.91 519.16,350.08 516.95,348.89 519.77,348.81" fill="#0000ff"/>
<line x1="556.40" y1="310.90" x2="800.50" y2="310.90" stroke="#a8a8a8" stroke-width="1.5"/>
<line x1="557.00" y1="310.90" x2="557.00" y2="434.00" stroke="#333" stroke-width="1.5"/>
<line x1="800.00" y1="310.90" x2="800.00" y2="434.00" stroke="#222" stroke-width="1.1"/>
<line x1="556.40" y1="433.50" x2="800.50" y2="433.50" stroke="#222" stroke-width="1.1"/>
<line x1="557.00" y1="421.82" x2="563.20" y2="421.82" stroke="#5a5a5a" stroke-width="0.9"/>
<line x1="557.00" y1="410.14" x2="563.20" y2="410.14" stroke="#5a5a5a" stroke-width="0.9"/>
<line x1="557.00" y1="398.46" x2="563.20" y2="398.46" stroke="#5a5a5a" stroke-width="0.9"/>
<line x1="557.00" y1="386.78" x2="563.20" y2="386.78" stroke="#5a5a5a" stroke-width="0.9"/>
<line x1="557.00" y1="375.10" x2="563.20" y2="375.10" stroke="#5a5a5a" stroke-width="0.9"/>
<line x1="557.00" y1="363.42" x2="563.20" y2="363.42" stroke="#5a5a5a" stroke-width="0.9"/>
<line x1="557.00" y1="351.74" x2="563.20" y2="351.74" stroke="#5a5a5a" stroke-width="0.9"/>
<line x1="557.00" y1="340.06" x2="563.20" y2="340.06" stroke="#5a5a5a" stroke-width="0.9"/>
<line x1="557.00" y1="328.38" x2="563.20" y2="328.38" stroke="#5a5a5a" stroke-width="0.9"/>
<line x1="557.00" y1="316.70" x2="563.20" y2="316.70" stroke="#5a5a5a" stroke-width="0.9"/>
<line x1="574.50" y1="433.50" x2="574.50" y2="430.70" stroke="#111" stroke-width="1.0"/>
<line x1="592.50" y1="433.50" x2="592.50" y2="430.70" stroke="#111" stroke-width="1.0"/>
<line x1="610.50" y1="433.50" x2="610.50" y2="429.90" stroke="#111" stroke-width="1.0"/>
<line x1="628.50" y1="433.50" x2="628.50" y2="430.70" stroke="#111" stroke-width="1.0"/>
<line x1="646.50" y1="433.50" x2="646.50" y2="430.70" stroke="#111" stroke-width="1.0"/>
<line x1="664.50" y1="433.50" x2="664.50" y2="429.90" stroke="#111" stroke-width="1.0"/>
<line x1="682.50" y1="433.50" x2="682.50" y2="430.70" stroke="#111" stroke-width="1.0"/>
<line x1="700.50" y1="433.50" x2="700.50" y2="430.70" stroke="#111" stroke-width="1.0"/>
<line x1="718.50" y1="433.50" x2="718.50" y2="429.90" stroke="#111" stroke-width="1.0"/>
<line x1="736.50" y1="433.50" x2="736.50" y2="430.70" stroke="#111" stroke-width="1.0"/>
<line x1="754.50" y1="433.50" x2="754.50" y2="430.70" stroke="#111" stroke-width="1.0"/>
<line x1="772.50" y1="433.50" x2="772.50" y2="429.90" stroke="#111" stroke-width="1.0"/>
<rect x="564.25" y="430.11" width="7.0" height="3.6" fill="none" stroke="#555" stroke-width="0.6"/>
<ellipse cx="567.75" cy="431.94" rx="3.7" ry="1.95" fill="#000"/>
<rect x="585.74" y="427.17" width="7.0" height="3.6" fill="none" stroke="#555" stroke-width="0.6"/>
<ellipse cx="589.24" cy="429.02" rx="3.7" ry="1.95" fill="#000"/>
<rect x="607.23" y="424.24" width="7.0" height="3.6" fill="none" stroke="#555" stroke-width="0.6"/>
<ellipse cx="610.73" cy="426.10" rx="3.7" ry="1.95" fill="#000"/>
<rect x="628.72" y="421.30" width="7.0" height="3.6" fill="none" stroke="#555" stroke-width="0.6"/>
<ellipse cx="632.22" cy="423.18" rx="3.7" ry="1.95" fill="#000"/>
<rect x="650.21" y="418.37" width="7.0" height="3.6" fill="none" stroke="#555" stroke-width="0.6"/>
<ellipse cx="653.71" cy="420.26" rx="3.7" ry="1.95" fill="#000"/>
<rect x="671.69" y="415.43" width="7.0" height="3.6" fill="none" stroke="#555" stroke-width="0.6"/>
<ellipse cx="675.19" cy="417.34" rx="3.7" ry="1.95" fill="#000"/>
<rect x="693.18" y="412.50" width="7.0" height="3.6" fill="none" stroke="#555" stroke-width="0.6"/>
<ellipse cx="696.68" cy="414.42" rx="3.7" ry="1.95" fill="#000"/>
<rect x="714.67" y="409.56" width="7.0" height="3.6" fill="none" stroke="#555" stroke-width="0.6"/>
<ellipse cx="718.17" cy="411.50" rx="3.7" ry="1.95" fill="#000"/>
<rect x="736.16" y="406.63" width="7.0" height="3.6" fill="none" stroke="#555" stroke-width="0.6"/>
<ellipse cx="739.66" cy="408.58" rx="3.7" ry="1.95" fill="#000"/>
<rect x="757.65" y="403.69" width="7.0" height="3.6" fill="none" stroke="#555" stroke-width="0.6"/>
<ellipse cx="761.15" cy="405.66" rx="3.7" ry="1.95" fill="#000"/>
<path d="M563.14,429.39 L567.75,425.39 L572.35,429.39 Z" fill="none" stroke="#ff1a1a" stroke-width="0.8"/>
<path d="M563.35,426.54 L572.14,426.54 L567.75,430.64 Z" fill="#ff0000"/>
<path d="M584.63,418.60 L589.24,414.60 L593.84,418.60 Z" fill="none" stroke="#ff1a1a" stroke-width="0.8"/>
<path d="M584.84,415.87 L593.63,415.87 L589.24,419.97 Z" fill="#ff0000"/>
<path d="M606.12,407.81 L610.73,403.81 L615.33,407.81 Z" fill="none" stroke="#ff1a1a" stroke-width="0.8"/>
<path d="M606.33,405.20 L615.12,405.20 L610.73,409.30 Z" fill="#ff0000"/>
<path d="M627.62,397.03 L632.22,393.03 L636.82,397.03 Z" fill="none" stroke="#ff1a1a" stroke-width="0.8"/>
<path d="M627.82,394.54 L636.62,394.54 L632.22,398.64 Z" fill="#ff0000"/>
<path d="M649.11,386.24 L653.71,382.24 L658.31,386.24 Z" fill="none" stroke="#ff1a1a" stroke-width="0.8"/>
<path d="M649.31,383.87 L658.11,383.87 L653.71,387.97 Z" fill="#ff0000"/>
<path d="M670.59,375.45 L675.19,371.45 L679.79,375.45 Z" fill="none" stroke="#ff1a1a" stroke-width="0.8"/>
<path d="M670.79,373.20 L679.59,373.20 L675.19,377.30 Z" fill="#ff0000"/>
<path d="M692.08,364.67 L696.68,360.67 L701.28,364.67 Z" fill="none" stroke="#ff1a1a" stroke-width="0.8"/>
<path d="M692.28,362.54 L701.08,362.54 L696.68,366.64 Z" fill="#ff0000"/>
<path d="M713.57,353.88 L718.17,349.88 L722.77,353.88 Z" fill="none" stroke="#ff1a1a" stroke-width="0.8"/>
<path d="M713.77,351.87 L722.57,351.87 L718.17,355.97 Z" fill="#ff0000"/>
<path d="M735.06,343.09 L739.66,339.09 L744.26,343.09 Z" fill="none" stroke="#ff1a1a" stroke-width="0.8"/>
<path d="M735.26,341.20 L744.06,341.20 L739.66,345.30 Z" fill="#ff0000"/>
<path d="M756.55,332.30 L761.15,328.30 L765.75,332.30 Z" fill="none" stroke="#ff1a1a" stroke-width="0.8"/>
<path d="M756.75,330.53 L765.55,330.53 L761.15,334.63 Z" fill="#ff0000"/>
<path d="M563.04,428.63 L567.75,426.03 L572.45,428.63 L567.75,431.23 Z" fill="none" stroke="#2a2aff" stroke-width="0.75"/>
<polygon points="567.75,426.63 568.73,428.41 571.55,428.50 569.34,429.68 570.10,431.51 567.75,430.46 565.39,431.51 566.15,429.68 563.94,428.50 566.76,428.41" fill="#0000ff"/>
<path d="M584.53,419.56 L589.24,416.96 L593.94,419.56 L589.24,422.16 Z" fill="none" stroke="#2a2aff" stroke-width="0.75"/>
<polygon points="589.24,417.63 590.22,419.42 593.04,419.50 590.83,420.68 591.59,422.52 589.24,421.47 586.88,422.52 587.64,420.68 585.43,419.50 588.25,419.42" fill="#0000ff"/>
<path d="M606.02,410.50 L610.73,407.90 L615.43,410.50 L610.73,413.10 Z" fill="none" stroke="#2a2aff" stroke-width="0.75"/>
<polygon points="610.73,408.64 611.71,410.42 614.53,410.50 612.32,411.69 613.08,413.52 610.73,412.47 608.37,413.52 609.13,411.69 606.92,410.50 609.74,410.42" fill="#0000ff"/>
<path d="M627.51,401.43 L632.22,398.83 L636.92,401.43 L632.22,404.03 Z" fill="none" stroke="#2a2aff" stroke-width="0.75"/>
<polygon points="632.22,399.64 633.20,401.43 636.02,401.51 633.81,402.69 634.57,404.53 632.22,403.48 629.86,404.53 630.62,402.69 628.41,401.51 631.23,401.43" fill="#0000ff"/>
<path d="M649.00,392.37 L653.71,389.77 L658.41,392.37 L653.71,394.97 Z" fill="none" stroke="#2a2aff" stroke-width="0.75"/>
<polygon points="653.71,390.65 654.69,392.43 657.51,392.51 655.30,393.70 656.06,395.53 653.71,394.48 651.35,395.53 652.11,393.70 649.90,392.51 652.72,392.43" fill="#0000ff"/>
<path d="M670.49,383.30 L675.19,380.70 L679.89,383.30 L675.19,385.90 Z" fill="none" stroke="#2a2aff" stroke-width="0.75"/>
<polygon points="675.19,381.65 676.18,383.44 679.00,383.52 676.79,384.70 677.55,386.54 675.19,385.49 672.84,386.54 673.60,384.70 671.39,383.52 674.21,383.44" fill="#0000ff"/>
<path d="M691.98,374.24 L696.68,371.64 L701.38,374.24 L696.68,376.84 Z" fill="none" stroke="#2a2aff" stroke-width="0.75"/>
<polygon points="696.68,372.66 697.67,374.44 700.49,374.52 698.28,375.71 699.04,377.54 696.68,376.49 694.33,377.54 695.09,375.71 692.88,374.52 695.70,374.44" fill="#0000ff"/>
<path d="M713.47,365.17 L718.17,362.57 L722.88,365.17 L718.17,367.77 Z" fill="none" stroke="#2a2aff" stroke-width="0.75"/>
<polygon points="718.17,363.66 719.16,365.45 721.98,365.53 719.77,366.71 720.53,368.55 718.17,367.50 715.82,368.55 716.58,366.71 714.37,365.53 717.19,365.45" fill="#0000ff"/>
<path d="M734.96,356.11 L739.66,353.51 L744.37,356.11 L739.66,358.71 Z" fill="none" stroke="#2a2aff" stroke-width="0.75"/>
<polygon points="739.66,354.67 740.65,356.45 743.47,356.53 741.26,357.72 742.02,359.55 739.66,358.50 737.31,359.55 738.07,357.72 735.86,356.53 738.68,356.45" fill="#0000ff"/>
<path d="M756.45,347.04 L761.15,344.44 L765.86,347.04 L761.15,349.64 Z" fill="none" stroke="#2a2aff" stroke-width="0.75"/>
<polygon points="761.15,345.67 762.14,347.45 764.96,347.54 762.75,348.72 763.51,350.56 761.15,349.51 758.80,350.56 759.56,348.72 757.35,347.54 760.17,347.45" fill="#0000ff"/>
<text transform="translate(63.51,309.97) rotate(0.25) scale(0.132,0.071)" font-family="Liberation Serif" font-size="100" fill="#1a1a1a" text-rendering="geometricPrecision">0</text>
<text transform="translate(63.51,310.09) rotate(0.25) scale(0.132,0.071)" font-family="Liberation Serif" font-size="100" fill="#1a1a1a" text-rendering="geometricPrecision">0</text>
<text transform="translate(63.78,298.41) rotate(0.25) scale(0.114,0.073)" font-family="Liberation Serif" font-size="100" fill="#1a1a1a" text-rendering="geometricPrecision">1</text>
<text transform="translate(63.78,298.53) rotate(0.25) scale(0.114,0.073)" font-family="Liberation Serif" font-size="100" fill="#1a1a1a" text-rendering="geometricPrecision">1</text>
<text transform="translate(63.37,286.78) rotate(0.25) scale(0.140,0.072)" font-family="Liberation Serif" font-size="100" fill="#1a1a1a" text-rendering="geometricPrecision">2</text>
<text transform="translate(63.37,286.90) rotate(0.25) scale(0.140,0.072)" font-family="Liberation Serif" font-size="100" fill="#1a1a1a" text-rendering="geometricPrecision">2</text>
<text transform="translate(63.36,275.08) rotate(0.25) scale(0.136,0.071)" font-family="Liberation Serif" font-size="100" fill="#1a1a1a" text-rendering="geometricPrecision">3</text>
<text transform="translate(63.36,275.20) rotate(0.25) scale(0.136,0.071)" font-family="Liberation Serif" font-size="100" fill="#1a1a1a" text-rendering="geometricPrecision">3</text>
<text transform="translate(63.76,263.52) rotate(0.25) scale(0.120,0.073)" font-family="Liberation Serif" font-size="100" fill="#1a1a1a" text-rendering="geometricPrecision">4</text>
<text transform="translate(63.76,263.64) rotate(0.25) scale(0.120,0.073)" font-family="Liberation Serif" font-size="100" fill="#1a1a1a" text-rendering="geometricPrecision">4</text>
<text transform="translate(63.20,251.82) rotate(0.25) scale(0.139,0.072)" font-family="Liberation Serif" font-size="100" fill="#1a1a1a" text-rendering="geometricPrecision">5</text>
<text transform="translate(63.20,251.94) rotate(0.25) scale(0.139,0.072)" font-family="Liberation Serif" font-size="100" fill="#1a1a1a" text-rendering="geometricPrecision">5</text>
<text transform="translate(63.44,240.19) rotate(0.25) scale(0.131,0.071)" font-family="Liberation Serif" font-size="100" fill="#1a1a1a" text-rendering="geometricPrecision">6</text>
<text transform="translate(63.44,240.31) rotate(0.25) scale(0.131,0.071)" font-family="Liberation Serif" font-size="100" fill="#1a1a1a" text-rendering="geometricPrecision">6</text>
<text transform="translate(63.10,228.63) rotate(0.25) scale(0.138,0.073)" font-family="Liberation Serif" font-size="100" fill="#1a1a1a" text-rendering="geometricPrecision">7</text>
<text transform="translate(63.10,228.75) rotate(0.25) scale(0.138,0.073)" font-family="Liberation Serif" font-size="100" fill="#1a1a1a" text-rendering="geometricPrecision">7</text>
<text transform="translate(63.51,216.93) rotate(0.25) scale(0.132,0.071)" font-family="Liberation Serif" font-size="100" fill="#1a1a1a" text-rendering="geometricPrecision">8</text>
<text transform="translate(63.51,217.05) rotate(0.25) scale(0.132,0.071)" font-family="Liberation Serif" font-size="100" fill="#1a1a1a" text-rendering="geometricPrecision">8</text>
<text transform="translate(63.57,205.30) rotate(0.25) scale(0.131,0.071)" font-family="Liberation Serif" font-size="100" fill="#1a1a1a" text-rendering="geometricPrecision">9</text>
<text transform="translate(63.57,205.42) rotate(0.25) scale(0.131,0.071)" font-family="Liberation Serif" font-size="100" fill="#1a1a1a" text-rendering="geometricPrecision">9</text>
<text transform="translate(56.18,193.74) rotate(0.25) scale(0.114,0.073)" font-family="Liberation Serif" font-size="100" fill="#1a1a1a" text-rendering="geometricPrecision">1</text>
<text transform="translate(56.18,193.86) rotate(0.25) scale(0.114,0.073)" font-family="Liberation Serif" font-size="100" fill="#1a1a1a" text-rendering="geometricPrecision">1</text>
<text transform="translate(63.51,193.67) rotate(0.25) scale(0.132,0.071)" font-family="Liberation Serif" font-size="100" fill="#1a1a1a" text-rendering="geometricPrecision">0</text>
<text transform="translate(63.51,193.79) rotate(0.25) scale(0.132,0.071)" font-family="Liberation Serif" font-size="100" fill="#1a1a1a" text-rendering="geometricPrecision">0</text>
<text transform="translate(63.51,436.17) rotate(0.25) scale(0.132,0.071)" font-family="Liberation Serif" font-size="100" fill="#1a1a1a" text-rendering="geometricPrecision">0</text>
<text transform="translate(63.51,436.29) rotate(0.25) scale(0.132,0.071)" font-family="Liberation Serif" font-size="100" fill="#1a1a1a" text-rendering="geometricPrecision">0</text>
<text transform="translate(63.78,424.56) rotate(0.25) scale(0.114,0.073)" font-family="Liberation Serif" font-size="100" fill="#1a1a1a" text-rendering="geometricPrecision">1</text>
<text transform="translate(63.78,424.68) rotate(0.25) scale(0.114,0.073)" font-family="Liberation Serif" font-size="100" fill="#1a1a1a" text-rendering="geometricPrecision">1</text>
<text transform="translate(63.37,412.88) rotate(0.25) scale(0.140,0.072)" font-family="Liberation Serif" font-size="100" fill="#1a1a1a" text-rendering="geometricPrecision">2</text>
<text transform="translate(63.37,413.00) rotate(0.25) scale(0.140,0.072)" font-family="Liberation Serif" font-size="100" fill="#1a1a1a" text-rendering="geometricPrecision">2</text>
<text transform="translate(63.36,401.13) rotate(0.25) scale(0.136,0.071)" font-family="Liberation Serif" font-size="100" fill="#1a1a1a" text-rendering="geometricPrecision">3</text>
<text transform="translate(63.36,401.25) rotate(0.25) scale(0.136,0.071)" font-family="Liberation Serif" font-size="100" fill="#1a1a1a" text-rendering="geometricPrecision">3</text>
<text transform="translate(63.76,389.52) rotate(0.25) scale(0.120,0.073)" font-family="Liberation Serif" font-size="100" fill="#1a1a1a" text-rendering="geometricPrecision">4</text>
<text transform="translate(63.76,389.64) rotate(0.25) scale(0.120,0.073)" font-family="Liberation Serif" font-size="100" fill="#1a1a1a" text-rendering="geometricPrecision">4</text>
<text transform="translate(63.20,377.77) rotate(0.25) scale(0.139,0.072)" font-family="Liberation Serif" font-size="100" fill="#1a1a1a" text-rendering="geometricPrecision">5</text>
<text transform="translate(63.20,377.89) rotate(0.25) scale(0.139,0.072)" font-family="Liberation Serif" font-size="100" fill="#1a1a1a" text-rendering="geometricPrecision">5</text>
<text transform="translate(63.44,366.09) rotate(0.25) scale(0.131,0.071)" font-family="Liberation Serif" font-size="100" fill="#1a1a1a" text-rendering="geometricPrecision">6</text>
<text transform="translate(63.44,366.21) rotate(0.25) scale(0.131,0.071)" font-family="Liberation Serif" font-size="100" fill="#1a1a1a" text-rendering="geometricPrecision">6</text>
<text transform="translate(63.10,354.48) rotate(0.25) scale(0.138,0.073)" font-family="Liberation Serif" font-size="100" fill="#1a1a1a" text-rendering="geometricPrecision">7</text>
<text transform="translate(63.10,354.60) rotate(0.25) scale(0.138,0.073)" font-family="Liberation Serif" font-size="100" fill="#1a1a1a" text-rendering="geometricPrecision">7</text>
<text transform="translate(63.51,342.73) rotate(0.25) scale(0.132,0.071)" font-family="Liberation Serif" font-size="100" fill="#1a1a1a" text-rendering="geometricPrecision">8</text>
<text transform="translate(63.51,342.85) rotate(0.25) scale(0.132,0.071)" font-family="Liberation Serif" font-size="100" fill="#1a1a1a" text-rendering="geometricPrecision">8</text>
<text transform="translate(63.57,331.05) rotate(0.25) scale(0.131,0.071)" font-family="Liberation Serif" font-size="100" fill="#1a1a1a" text-rendering="geometricPrecision">9</text>
<text transform="translate(63.57,331.17) rotate(0.25) scale(0.131,0.071)" font-family="Liberation Serif" font-size="100" fill="#1a1a1a" text-rendering="geometricPrecision">9</text>
<text transform="translate(56.18,319.44) rotate(0.25) scale(0.114,0.073)" font-family="Liberation Serif" font-size="100" fill="#1a1a1a" text-rendering="geometricPrecision">1</text>
<text transform="translate(56.18,319.56) rotate(0.25) scale(0.114,0.073)" font-family="Liberation Serif" font-size="100" fill="#1a1a1a" text-rendering="geometricPrecision">1</text>
<text transform="translate(63.51,319.37) rotate(0.25) scale(0.132,0.071)" font-family="Liberation Serif" font-size="100" fill="#1a1a1a" text-rendering="geometricPrecision">0</text>
<text transform="translate(63.51,319.49) rotate(0.25) scale(0.132,0.071)" font-family="Liberation Serif" font-size="100" fill="#1a1a1a" text-rendering="geometricPrecision">0</text>
<text transform="translate(73.31,442.67) rotate(0.25) scale(0.132,0.068)" font-family="Liberation Serif" font-size="100" fill="#1a1a1a" text-rendering="geometricPrecision">0</text>
<text transform="translate(73.31,442.79) rotate(0.25) scale(0.132,0.068)" font-family="Liberation Serif" font-size="100" fill="#1a1a1a" text-rendering="geometricPrecision">0</text>
<text transform="translate(126.85,442.67) rotate(0.25) scale(0.139,0.069)" font-family="Liberation Serif" font-size="100" fill="#1a1a1a" text-rendering="geometricPrecision">5</text>
<text transform="translate(126.85,442.79) rotate(0.25) scale(0.139,0.069)" font-family="Liberation Serif" font-size="100" fill="#1a1a1a" text-rendering="geometricPrecision">5</text>
<text transform="translate(177.08,442.74) rotate(0.25) scale(0.114,0.070)" font-family="Liberation Serif" font-size="100" fill="#1a1a1a" text-rendering="geometricPrecision">1</text>
<text transform="translate(177.08,442.86) rotate(0.25) scale(0.114,0.070)" font-family="Liberation Serif" font-size="100" fill="#1a1a1a" text-rendering="geometricPrecision">1</text>
<text transform="translate(184.01,442.67) rotate(0.25) scale(0.132,0.068)" font-family="Liberation Serif" font-size="100" fill="#1a1a1a" text-rendering="geometricPrecision">0</text>
<text transform="translate(184.01,442.79) rotate(0.25) scale(0.132,0.068)" font-family="Liberation Serif" font-size="100" fill="#1a1a1a" text-rendering="geometricPrecision">0</text>
<text transform="translate(230.93,442.74) rotate(0.25) scale(0.114,0.070)" font-family="Liberation Serif" font-size="100" fill="#1a1a1a" text-rendering="geometricPrecision">1</text>
<text transform="translate(230.93,442.86) rotate(0.25) scale(0.114,0.070)" font-family="Liberation Serif" font-size="100" fill="#1a1a1a" text-rendering="geometricPrecision">1</text>
<text transform="translate(237.55,442.67) rotate(0.25) scale(0.139,0.069)" font-family="Liberation Serif" font-size="100" fill="#1a1a1a" text-rendering="geometricPrecision">5</text>
<text transform="translate(237.55,442.79) rotate(0.25) scale(0.139,0.069)" font-family="Liberation Serif" font-size="100" fill="#1a1a1a" text-rendering="geometricPrecision">5</text>
<text transform="translate(284.37,442.74) rotate(0.25) scale(0.140,0.069)" font-family="Liberation Serif" font-size="100" fill="#1a1a1a" text-rendering="geometricPrecision">2</text>
<text transform="translate(284.37,442.86) rotate(0.25) scale(0.140,0.069)" font-family="Liberation Serif" font-size="100" fill="#1a1a1a" text-rendering="geometricPrecision">2</text>
<text transform="translate(291.71,442.67) rotate(0.25) scale(0.132,0.068)" font-family="Liberation Serif" font-size="100" fill="#1a1a1a" text-rendering="geometricPrecision">0</text>
<text transform="translate(291.71,442.79) rotate(0.25) scale(0.132,0.068)" font-family="Liberation Serif" font-size="100" fill="#1a1a1a" text-rendering="geometricPrecision">0</text>
<text transform="translate(313.71,442.67) rotate(0.25) scale(0.132,0.068)" font-family="Liberation Serif" font-size="100" fill="#1a1a1a" text-rendering="geometricPrecision">0</text>
<text transform="translate(313.71,442.79) rotate(0.25) scale(0.132,0.068)" font-family="Liberation Serif" font-size="100" fill="#1a1a1a" text-rendering="geometricPrecision">0</text>
<text transform="translate(367.25,442.67) rotate(0.25) scale(0.139,0.069)" font-family="Liberation Serif" font-size="100" fill="#1a1a1a" text-rendering="geometricPrecision">5</text>
<text transform="translate(367.25,442.79) rotate(0.25) scale(0.139,0.069)" font-family="Liberation Serif" font-size="100" fill="#1a1a1a" text-rendering="geometricPrecision">5</text>
<text transform="translate(417.48,442.74) rotate(0.25) scale(0.114,0.070)" font-family="Liberation Serif" font-size="100" fill="#1a1a1a" text-rendering="geometricPrecision">1</text>
<text transform="translate(417.48,442.86) rotate(0.25) scale(0.114,0.070)" font-family="Liberation Serif" font-size="100" fill="#1a1a1a" text-rendering="geometricPrecision">1</text>
<text transform="translate(424.41,442.67) rotate(0.25) scale(0.132,0.068)" font-family="Liberation Serif" font-size="100" fill="#1a1a1a" text-rendering="geometricPrecision">0</text>
<text transform="translate(424.41,442.79) rotate(0.25) scale(0.132,0.068)" font-family="Liberation Serif" font-size="100" fill="#1a1a1a" text-rendering="geometricPrecision">0</text>
<text transform="translate(471.33,442.74) rotate(0.25) scale(0.114,0.070)" font-family="Liberation Serif" font-size="100" fill="#1a1a1a" text-rendering="geometricPrecision">1</text>
<text transform="translate(471.33,442.86) rotate(0.25) scale(0.114,0.070)" font-family="Liberation Serif" font-size="100" fill="#1a1a1a" text-rendering="geometricPrecision">1</text>
<text transform="translate(477.95,442.67) rotate(0.25) scale(0.139,0.069)" font-family="Liberation Serif" font-size="100" fill="#1a1a1a" text-rendering="geometricPrecision">5</text>
<text transform="translate(477.95,442.79) rotate(0.25) scale(0.139,0.069)" font-family="Liberation Serif" font-size="100" fill="#1a1a1a" text-rendering="geometricPrecision">5</text>
<text transform="translate(524.77,442.74) rotate(0.25) scale(0.140,0.069)" font-family="Liberation Serif" font-size="100" fill="#1a1a1a" text-rendering="geometricPrecision">2</text>
<text transform="translate(524.77,442.86) rotate(0.25) scale(0.140,0.069)" font-family="Liberation Serif" font-size="100" fill="#1a1a1a" text-rendering="geometricPrecision">2</text>
<text transform="translate(532.11,442.67) rotate(0.25) scale(0.132,0.068)" font-family="Liberation Serif" font-size="100" fill="#1a1a1a" text-rendering="geometricPrecision">0</text>
<text transform="translate(532.11,442.79) rotate(0.25) scale(0.132,0.068)" font-family="Liberation Serif" font-size="100" fill="#1a1a1a" text-rendering="geometricPrecision">0</text>
<text transform="translate(553.71,442.67) rotate(0.25) scale(0.132,0.068)" font-family="Liberation Serif" font-size="100" fill="#1a1a1a" text-rendering="geometricPrecision">0</text>
<text transform="translate(553.71,442.79) rotate(0.25) scale(0.132,0.068)" font-family="Liberation Serif" font-size="100" fill="#1a1a1a" text-rendering="geometricPrecision">0</text>
<text transform="translate(607.25,442.67) rotate(0.25) scale(0.139,0.069)" font-family="Liberation Serif" font-size="100" fill="#1a1a1a" text-rendering="geometricPrecision">5</text>
<text transform="translate(607.25,442.79) rotate(0.25) scale(0.139,0.069)" font-family="Liberation Serif" font-size="100" fill="#1a1a1a" text-rendering="geometricPrecision">5</text>
<text transform="translate(657.48,442.74) rotate(0.25) scale(0.114,0.070)" font-family="Liberation Serif" font-size="100" fill="#1a1a1a" text-rendering="geometricPrecision">1</text>
<text transform="translate(657.48,442.86) rotate(0.25) scale(0.114,0.070)" font-family="Liberation Serif" font-size="100" fill="#1a1a1a" text-rendering="geometricPrecision">1</text>
<text transform="translate(664.41,442.67) rotate(0.25) scale(0.132,0.068)" font-family="Liberation Serif" font-size="100" fill="#1a1a1a" text-rendering="geometricPrecision">0</text>
<text transform="translate(664.41,442.79) rotate(0.25) scale(0.132,0.068)" font-family="Liberation Serif" font-size="100" fill="#1a1a1a" text-rendering="geometricPrecision">0</text>
<text transform="translate(711.33,442.74) rotate(0.25) scale(0.114,0.070)" font-family="Liberation Serif" font-size="100" fill="#1a1a1a" text-rendering="geometricPrecision">1</text>
<text transform="translate(711.33,442.86) rotate(0.25) scale(0.114,0.070)" font-family="Liberation Serif" font-size="100" fill="#1a1a1a" text-rendering="geometricPrecision">1</text>
<text transform="translate(717.95,442.67) rotate(0.25) scale(0.139,0.069)" font-family="Liberation Serif" font-size="100" fill="#1a1a1a" text-rendering="geometricPrecision">5</text>
<text transform="translate(717.95,442.79) rotate(0.25) scale(0.139,0.069)" font-family="Liberation Serif" font-size="100" fill="#1a1a1a" text-rendering="geometricPrecision">5</text>
<text transform="translate(764.77,442.74) rotate(0.25) scale(0.140,0.069)" font-family="Liberation Serif" font-size="100" fill="#1a1a1a" text-rendering="geometricPrecision">2</text>
<text transform="translate(764.77,442.86) rotate(0.25) scale(0.140,0.069)" font-family="Liberation Serif" font-size="100" fill="#1a1a1a" text-rendering="geometricPrecision">2</text>
<text transform="translate(772.11,442.67) rotate(0.25) scale(0.132,0.068)" font-family="Liberation Serif" font-size="100" fill="#1a1a1a" text-rendering="geometricPrecision">0</text>
<text transform="translate(772.11,442.79) rotate(0.25) scale(0.132,0.068)" font-family="Liberation Serif" font-size="100" fill="#1a1a1a" text-rendering="geometricPrecision">0</text>
<g transform="translate(48.0,276.7) rotate(-90)">
<text transform="translate(-0.14,-0.99) rotate(0.25) scale(0.110,0.209)" font-family="Liberation Serif" font-size="100" fill="#111" stroke="#111" stroke-width="1.2" text-rendering="geometricPrecision">y</text>
<text transform="translate(6.27,0.00) rotate(0.25) scale(0.162,0.251)" font-family="Liberation Serif" font-size="100" fill="#111" stroke="#111" stroke-width="1.2" text-rendering="geometricPrecision">i</text>
<text transform="translate(11.69,0.17) rotate(0.25) scale(0.151,0.229)" font-family="Liberation Serif" font-size="100" fill="#111" stroke="#111" stroke-width="1.2" text-rendering="geometricPrecision">e</text>
<text transform="translate(19.01,0.00) rotate(0.25) scale(0.147,0.239)" font-family="Liberation Serif" font-size="100" fill="#111" stroke="#111" stroke-width="1.2" text-rendering="geometricPrecision">l</text>
<text transform="translate(24.33,0.06) rotate(0.25) scale(0.106,0.240)" font-family="Liberation Serif" font-size="100" fill="#111" stroke="#111" stroke-width="1.2" text-rendering="geometricPrecision">d</text>
<text transform="translate(30.80,1.89) rotate(0.25) scale(0.205,0.313)" font-family="Liberation Serif" font-size="100" fill="#111" stroke="#111" stroke-width="1.2" text-rendering="geometricPrecision">/</text>
<text transform="translate(36.83,0.00) rotate(0.25) scale(0.111,0.252)" font-family="Liberation Serif" font-size="100" fill="#111" stroke="#111" stroke-width="1.2" text-rendering="geometricPrecision">1</text>
<text transform="translate(43.08,0.05) rotate(0.25) scale(0.113,0.250)" font-family="Liberation Serif" font-size="100" fill="#111" stroke="#111" stroke-width="1.2" text-rendering="geometricPrecision">0</text>
<text transform="translate(49.54,-3.49) rotate(0.25) scale(0.112,0.280)" font-family="Liberation Serif" font-size="100" fill="#111" text-rendering="geometricPrecision">−</text>
<text transform="translate(55.68,-4.14) rotate(0.25) scale(0.122,0.241)" font-family="Liberation Serif" font-size="100" fill="#111" stroke="#111" stroke-width="1.2" text-rendering="geometricPrecision">6</text>
</g>
<g transform="translate(48.0,402.8) rotate(-90)">
<text transform="translate(-0.14,-0.99) rotate(0.25) scale(0.110,0.209)" font-family="Liberation Serif" font-size="100" fill="#111" stroke="#111" stroke-width="1.2" text-rendering="geometricPrecision">y</text>
<text transform="translate(6.27,0.00) rotate(0.25) scale(0.162,0.251)" font-family="Liberation Serif" font-size="100" fill="#111" stroke="#111" stroke-width="1.2" text-rendering="geometricPrecision">i</text>
<text transform="translate(11.69,0.17) rotate(0.25) scale(0.151,0.229)" font-family="Liberation Serif" font-size="100" fill="#111" stroke="#111" stroke-width="1.2" text-rendering="geometricPrecision">e</text>
<text transform="translate(19.01,0.00) rotate(0.25) scale(0.147,0.239)" font-family="Liberation Serif" font-size="100" fill="#111" stroke="#111" stroke-width="1.2" text-rendering="geometricPrecision">l</text>
<text transform="translate(24.33,0.06) rotate(0.25) scale(0.106,0.240)" font-family="Liberation Serif" font-size="100" fill="#111" stroke="#111" stroke-width="1.2" text-rendering="geometricPrecision">d</text>
<text transform="translate(30.80,1.89) rotate(0.25) scale(0.205,0.313)" font-family="Liberation Serif" font-size="100" fill="#111" stroke="#111" stroke-width="1.2" text-rendering="geometricPrecision">/</text>
<text transform="translate(36.83,0.00) rotate(0.25) scale(0.111,0.252)" font-family="Liberation Serif" font-size="100" fill="#111" stroke="#111" stroke-width="1.2" text-rendering="geometricPrecision">1</text>
<text transform="translate(43.08,0.05) rotate(0.25) scale(0.113,0.250)" font-family="Liberation Serif" font-size="100" fill="#111" stroke="#111" stroke-width="1.2" text-rendering="geometricPrecision">0</text>
<text transform="translate(49.54,-3.49) rotate(0.25) scale(0.112,0.280)" font-family="Liberation Serif" font-size="100" fill="#111" text-rendering="geometricPrecision">−</text>
<text transform="translate(55.68,-4.14) rotate(0.25) scale(0.122,0.241)" font-family="Liberation Serif" font-size="100" fill="#111" stroke="#111" stroke-width="1.2" text-rendering="geometricPrecision">6</text>
</g>
<text transform="translate(153.61,454.00) rotate(0.25) scale(0.157,0.077)" font-family="Liberation Serif" font-size="100" fill="#111" stroke="#111" stroke-width="2.2" text-rendering="geometricPrecision">Δ</text>
<text transform="translate(153.61,454.40) rotate(0.25) scale(0.157,0.077)" font-family="Liberation Serif" font-size="100" fill="#111" stroke="#111" stroke-width="2.2" text-rendering="geometricPrecision">Δ</text>
<text transform="translate(168.55,454.10) rotate(0.25) scale(0.123,0.094)" font-family="Liberation Serif" font-size="100" fill="#111" stroke="#111" stroke-width="2.2" text-rendering="geometricPrecision">m</text>
<text transform="translate(168.55,454.50) rotate(0.25) scale(0.123,0.094)" font-family="Liberation Serif" font-size="100" fill="#111" stroke="#111" stroke-width="2.2" text-rendering="geometricPrecision">m</text>
<text transform="translate(179.00,455.00) rotate(0.25) scale(0.299,0.103)" font-family="Liberation Serif" font-size="100" fill="#111" stroke="#111" stroke-width="2.2" text-rendering="geometricPrecision">/</text>
<text transform="translate(179.00,455.40) rotate(0.25) scale(0.299,0.103)" font-family="Liberation Serif" font-size="100" fill="#111" stroke="#111" stroke-width="2.2" text-rendering="geometricPrecision">/</text>
<text transform="translate(189.09,453.98) rotate(0.25) scale(0.175,0.083)" font-family="Liberation Serif" font-size="100" fill="#111" stroke="#111" stroke-width="2.2" text-rendering="geometricPrecision">[</text>
<text transform="translate(189.09,454.38) rotate(0.25) scale(0.175,0.083)" font-family="Liberation Serif" font-size="100" fill="#111" stroke="#111" stroke-width="2.2" text-rendering="geometricPrecision">[</text>
<text transform="translate(195.10,454.00) rotate(0.25) scale(0.133,0.078)" font-family="Liberation Serif" font-size="100" fill="#111" stroke="#111" stroke-width="2.2" text-rendering="geometricPrecision">M</text>
<text transform="translate(195.10,454.40) rotate(0.25) scale(0.133,0.078)" font-family="Liberation Serif" font-size="100" fill="#111" stroke="#111" stroke-width="2.2" text-rendering="geometricPrecision">M</text>
<text transform="translate(206.95,454.01) rotate(0.25) scale(0.186,0.092)" font-family="Liberation Serif" font-size="100" fill="#111" stroke="#111" stroke-width="2.2" text-rendering="geometricPrecision">e</text>
<text transform="translate(206.95,454.41) rotate(0.25) scale(0.186,0.092)" font-family="Liberation Serif" font-size="100" fill="#111" stroke="#111" stroke-width="2.2" text-rendering="geometricPrecision">e</text>
<text transform="translate(215.80,453.89) rotate(0.25) scale(0.156,0.076)" font-family="Liberation Serif" font-size="100" fill="#111" stroke="#111" stroke-width="2.2" text-rendering="geometricPrecision">V</text>
<text transform="translate(215.80,454.29) rotate(0.25) scale(0.156,0.076)" font-family="Liberation Serif" font-size="100" fill="#111" stroke="#111" stroke-width="2.2" text-rendering="geometricPrecision">V</text>
<text transform="translate(227.31,453.98) rotate(0.25) scale(0.169,0.083)" font-family="Liberation Serif" font-size="100" fill="#111" stroke="#111" stroke-width="2.2" text-rendering="geometricPrecision">]</text>
<text transform="translate(227.31,454.38) rotate(0.25) scale(0.169,0.083)" font-family="Liberation Serif" font-size="100" fill="#111" stroke="#111" stroke-width="2.2" text-rendering="geometricPrecision">]</text>
<text transform="translate(394.01,454.00) rotate(0.25) scale(0.157,0.077)" font-family="Liberation Serif" font-size="100" fill="#111" stroke="#111" stroke-width="2.2" text-rendering="geometricPrecision">Δ</text>
<text transform="translate(394.01,454.40) rotate(0.25) scale(0.157,0.077)" font-family="Liberation Serif" font-size="100" fill="#111" stroke="#111" stroke-width="2.2" text-rendering="geometricPrecision">Δ</text>
<text transform="translate(408.95,454.10) rotate(0.25) scale(0.123,0.094)" font-family="Liberation Serif" font-size="100" fill="#111" stroke="#111" stroke-width="2.2" text-rendering="geometricPrecision">m</text>
<text transform="translate(408.95,454.50) rotate(0.25) scale(0.123,0.094)" font-family="Liberation Serif" font-size="100" fill="#111" stroke="#111" stroke-width="2.2" text-rendering="geometricPrecision">m</text>
<text transform="translate(419.40,455.00) rotate(0.25) scale(0.299,0.103)" font-family="Liberation Serif" font-size="100" fill="#111" stroke="#111" stroke-width="2.2" text-rendering="geometricPrecision">/</text>
<text transform="translate(419.40,455.40) rotate(0.25) scale(0.299,0.103)" font-family="Liberation Serif" font-size="100" fill="#111" stroke="#111" stroke-width="2.2" text-rendering="geometricPrecision">/</text>
<text transform="translate(429.49,453.98) rotate(0.25) scale(0.175,0.083)" font-family="Liberation Serif" font-size="100" fill="#111" stroke="#111" stroke-width="2.2" text-rendering="geometricPrecision">[</text>
<text transform="translate(429.49,454.38) rotate(0.25) scale(0.175,0.083)" font-family="Liberation Serif" font-size="100" fill="#111" stroke="#111" stroke-width="2.2" text-rendering="geometricPrecision">[</text>
<text transform="translate(435.50,454.00) rotate(0.25) scale(0.133,0.078)" font-family="Liberation Serif" font-size="100" fill="#111" stroke="#111" stroke-width="2.2" text-rendering="geometricPrecision">M</text>
<text transform="translate(435.50,454.40) rotate(0.25) scale(0.133,0.078)" font-family="Liberation Serif" font-size="100" fill="#111" stroke="#111" stroke-width="2.2" text-rendering="geometricPrecision">M</text>
<text transform="translate(447.35,454.01) rotate(0.25) scale(0.186,0.092)" font-family="Liberation Serif" font-size="100" fill="#111" stroke="#111" stroke-width="2.2" text-rendering="geometricPrecision">e</text>
<text transform="translate(447.35,454.41) rotate(0.25) scale(0.186,0.092)" font-family="Liberation Serif" font-size="100" fill="#111" stroke="#111" stroke-width="2.2" text-rendering="geometricPrecision">e</text>
<text transform="translate(456.20,453.89) rotate(0.25) scale(0.156,0.076)" font-family="Liberation Serif" font-size="100" fill="#111" stroke="#111" stroke-width="2.2" text-rendering="geometricPrecision">V</text>
<text transform="translate(456.20,454.29) rotate(0.25) scale(0.156,0.076)" font-family="Liberation Serif" font-size="100" fill="#111" stroke="#111" stroke-width="2.2" text-rendering="geometricPrecision">V</text>
<text transform="translate(467.71,453.98) rotate(0.25) scale(0.169,0.083)" font-family="Liberation Serif" font-size="100" fill="#111" stroke="#111" stroke-width="2.2" text-rendering="geometricPrecision">]</text>
<text transform="translate(467.71,454.38) rotate(0.25) scale(0.169,0.083)" font-family="Liberation Serif" font-size="100" fill="#111" stroke="#111" stroke-width="2.2" text-rendering="geometricPrecision">]</text>
<text transform="translate(633.91,454.00) rotate(0.25) scale(0.157,0.077)" font-family="Liberation Serif" font-size="100" fill="#111" stroke="#111" stroke-width="2.2" text-rendering="geometricPrecision">Δ</text>
<text transform="translate(633.91,454.40) rotate(0.25) scale(0.157,0.077)" font-family="Liberation Serif" font-size="100" fill="#111" stroke="#111" stroke-width="2.2" text-rendering="geometricPrecision">Δ</text>
<text transform="translate(648.85,454.10) rotate(0.25) scale(0.123,0.094)" font-family="Liberation Serif" font-size="100" fill="#111" stroke="#111" stroke-width="2.2" text-rendering="geometricPrecision">m</text>
<text transform="translate(648.85,454.50) rotate(0.25) scale(0.123,0.094)" font-family="Liberation Serif" font-size="100" fill="#111" stroke="#111" stroke-width="2.2" text-rendering="geometricPrecision">m</text>
<text transform="translate(659.30,455.00) rotate(0.25) scale(0.299,0.103)" font-family="Liberation Serif" font-size="100" fill="#111" stroke="#111" stroke-width="2.2" text-rendering="geometricPrecision">/</text>
<text transform="translate(659.30,455.40) rotate(0.25) scale(0.299,0.103)" font-family="Liberation Serif" font-size="100" fill="#111" stroke="#111" stroke-width="2.2" text-rendering="geometricPrecision">/</text>
<text transform="translate(669.39,453.98) rotate(0.25) scale(0.175,0.083)" font-family="Liberation Serif" font-size="100" fill="#111" stroke="#111" stroke-width="2.2" text-rendering="geometricPrecision">[</text>
<text transform="translate(669.39,454.38) rotate(0.25) scale(0.175,0.083)" font-family="Liberation Serif" font-size="100" fill="#111" stroke="#111" stroke-width="2.2" text-rendering="geometricPrecision">[</text>
<text transform="translate(675.40,454.00) rotate(0.25) scale(0.133,0.078)" font-family="Liberation Serif" font-size="100" fill="#111" stroke="#111" stroke-width="2.2" text-rendering="geometricPrecision">M</text>
<text transform="translate(675.40,454.40) rotate(0.25) scale(0.133,0.078)" font-family="Liberation Serif" font-size="100" fill="#111" stroke="#111" stroke-width="2.2" text-rendering="geometricPrecision">M</text>
<text transform="translate(687.25,454.01) rotate(0.25) scale(0.186,0.092)" font-family="Liberation Serif" font-size="100" fill="#111" stroke="#111" stroke-width="2.2" text-rendering="geometricPrecision">e</text>
<text transform="translate(687.25,454.41) rotate(0.25) scale(0.186,0.092)" font-family="Liberation Serif" font-size="100" fill="#111" stroke="#111" stroke-width="2.2" text-rendering="geometricPrecision">e</text>
<text transform="translate(696.10,453.89) rotate(0.25) scale(0.156,0.076)" font-family="Liberation Serif" font-size="100" fill="#111" stroke="#111" stroke-width="2.2" text-rendering="geometricPrecision">V</text>
<text transform="translate(696.10,454.29) rotate(0.25) scale(0.156,0.076)" font-family="Liberation Serif" font-size="100" fill="#111" stroke="#111" stroke-width="2.2" text-rendering="geometricPrecision">V</text>
<text transform="translate(707.61,453.98) rotate(0.25) scale(0.169,0.083)" font-family="Liberation Serif" font-size="100" fill="#111" stroke="#111" stroke-width="2.2" text-rendering="geometricPrecision">]</text>
<text transform="translate(707.61,454.38) rotate(0.25) scale(0.169,0.083)" font-family="Liberation Serif" font-size="100" fill="#111" stroke="#111" stroke-width="2.2" text-rendering="geometricPrecision">]</text>
<text transform="translate(89.49,197.97) rotate(0.25) scale(0.224,0.085)" font-family="Liberation Serif" font-size="100" font-style="italic" fill="#111" stroke="#111" stroke-width="0.4" text-rendering="geometricPrecision">p</text>
<text transform="translate(89.49,198.22) rotate(0.25) scale(0.224,0.085)" font-family="Liberation Serif" font-size="100" font-style="italic" fill="#111" stroke="#111" stroke-width="0.4" text-rendering="geometricPrecision">p</text>
<text transform="translate(100.83,197.97) rotate(0.25) scale(0.214,0.085)" font-family="Liberation Serif" font-size="100" font-style="italic" fill="#111" stroke="#111" stroke-width="0.4" text-rendering="geometricPrecision">p</text>
<text transform="translate(100.83,198.22) rotate(0.25) scale(0.214,0.085)" font-family="Liberation Serif" font-size="100" font-style="italic" fill="#111" stroke="#111" stroke-width="0.4" text-rendering="geometricPrecision">p</text>
<text transform="translate(119.95,198.65) rotate(0.25) scale(0.200,0.104)" font-family="Liberation Serif" font-size="100" fill="#111" stroke="#111" stroke-width="0.5" text-rendering="geometricPrecision">c</text>
<text transform="translate(119.95,198.95) rotate(0.25) scale(0.200,0.104)" font-family="Liberation Serif" font-size="100" fill="#111" stroke="#111" stroke-width="0.5" text-rendering="geometricPrecision">c</text>
<text transform="translate(130.17,198.65) rotate(0.25) scale(0.195,0.104)" font-family="Liberation Serif" font-size="100" fill="#111" stroke="#111" stroke-width="0.5" text-rendering="geometricPrecision">o</text>
<text transform="translate(130.17,198.95) rotate(0.25) scale(0.195,0.104)" font-family="Liberation Serif" font-size="100" fill="#111" stroke="#111" stroke-width="0.5" text-rendering="geometricPrecision">o</text>
<text transform="translate(141.87,198.55) rotate(0.25) scale(0.265,0.079)" font-family="Liberation Serif" font-size="100" fill="#111" stroke="#111" stroke-width="0.5" text-rendering="geometricPrecision">l</text>
<text transform="translate(141.87,198.85) rotate(0.25) scale(0.265,0.079)" font-family="Liberation Serif" font-size="100" fill="#111" stroke="#111" stroke-width="0.5" text-rendering="geometricPrecision">l</text>
<text transform="translate(151.36,198.55) rotate(0.25) scale(0.269,0.079)" font-family="Liberation Serif" font-size="100" fill="#111" stroke="#111" stroke-width="0.5" text-rendering="geometricPrecision">l</text>
<text transform="translate(151.36,198.85) rotate(0.25) scale(0.269,0.079)" font-family="Liberation Serif" font-size="100" fill="#111" stroke="#111" stroke-width="0.5" text-rendering="geometricPrecision">l</text>
<text transform="translate(161.57,198.55) rotate(0.25) scale(0.267,0.083)" font-family="Liberation Serif" font-size="100" fill="#111" stroke="#111" stroke-width="0.5" text-rendering="geometricPrecision">i</text>
<text transform="translate(161.57,198.85) rotate(0.25) scale(0.267,0.083)" font-family="Liberation Serif" font-size="100" fill="#111" stroke="#111" stroke-width="0.5" text-rendering="geometricPrecision">i</text>
<text transform="translate(171.82,198.65) rotate(0.25) scale(0.221,0.104)" font-family="Liberation Serif" font-size="100" fill="#111" stroke="#111" stroke-width="0.5" text-rendering="geometricPrecision">s</text>
<text transform="translate(171.82,198.95) rotate(0.25) scale(0.221,0.104)" font-family="Liberation Serif" font-size="100" fill="#111" stroke="#111" stroke-width="0.5" text-rendering="geometricPrecision">s</text>
<text transform="translate(181.97,198.55) rotate(0.25) scale(0.267,0.083)" font-family="Liberation Serif" font-size="100" fill="#111" stroke="#111" stroke-width="0.5" text-rendering="geometricPrecision">i</text>
<text transform="translate(181.97,198.85) rotate(0.25) scale(0.267,0.083)" font-family="Liberation Serif" font-size="100" fill="#111" stroke="#111" stroke-width="0.5" text-rendering="geometricPrecision">i</text>
<text transform="translate(191.31,198.65) rotate(0.25) scale(0.209,0.104)" font-family="Liberation Serif" font-size="100" fill="#111" stroke="#111" stroke-width="0.5" text-rendering="geometricPrecision">o</text>
<text transform="translate(191.31,198.95) rotate(0.25) scale(0.209,0.104)" font-family="Liberation Serif" font-size="100" fill="#111" stroke="#111" stroke-width="0.5" text-rendering="geometricPrecision">o</text>
<text transform="translate(201.87,198.75) rotate(0.25) scale(0.192,0.106)" font-family="Liberation Serif" font-size="100" fill="#111" stroke="#111" stroke-width="0.5" text-rendering="geometricPrecision">n</text>
<text transform="translate(201.87,199.05) rotate(0.25) scale(0.192,0.106)" font-family="Liberation Serif" font-size="100" fill="#111" stroke="#111" stroke-width="0.5" text-rendering="geometricPrecision">n</text>
<text transform="translate(212.60,198.65) rotate(0.25) scale(0.224,0.104)" font-family="Liberation Serif" font-size="100" fill="#111" stroke="#111" stroke-width="0.5" text-rendering="geometricPrecision">s</text>
<text transform="translate(212.60,198.95) rotate(0.25) scale(0.224,0.104)" font-family="Liberation Serif" font-size="100" fill="#111" stroke="#111" stroke-width="0.5" text-rendering="geometricPrecision">s</text>
<path d="M225.30,195.50 L227.30,195.10 L230.50,198.90" fill="none" stroke="#111" stroke-width="1.25" stroke-linejoin="round"/>
<path d="M230.30,199.00 L235.00,191.50" fill="none" stroke="#111" stroke-width="1.1" stroke-linecap="round"/>
<path d="M234.80,191.50 L243.70,191.50" fill="none" stroke="#222" stroke-width="0.85"/>
<text transform="translate(236.23,198.21) rotate(0.25) scale(0.192,0.094)" font-family="Liberation Serif" font-size="100" fill="#111" stroke="#111" stroke-width="0.5" text-rendering="geometricPrecision">s</text>
<text transform="translate(236.23,198.41) rotate(0.25) scale(0.192,0.094)" font-family="Liberation Serif" font-size="100" fill="#111" stroke="#111" stroke-width="0.5" text-rendering="geometricPrecision">s</text>
<text transform="translate(249.07,199.47) rotate(0.25) scale(0.245,0.112)" font-family="Liberation Serif" font-size="100" fill="#111" text-rendering="geometricPrecision">=</text>
<text transform="translate(249.07,199.77) rotate(0.25) scale(0.245,0.112)" font-family="Liberation Serif" font-size="100" fill="#111" text-rendering="geometricPrecision">=</text>
<text transform="translate(264.80,198.62) rotate(0.25) scale(0.200,0.101)" font-family="Liberation Serif" font-size="100" fill="#111" stroke="#111" stroke-width="0.7" text-rendering="geometricPrecision">7</text>
<text transform="translate(264.80,198.98) rotate(0.25) scale(0.200,0.101)" font-family="Liberation Serif" font-size="100" fill="#111" stroke="#111" stroke-width="0.7" text-rendering="geometricPrecision">7</text>
<text transform="translate(275.01,198.62) rotate(0.25) scale(0.168,0.101)" font-family="Liberation Serif" font-size="100" fill="#111" stroke="#111" stroke-width="0.7" text-rendering="geometricPrecision">T</text>
<text transform="translate(275.01,198.98) rotate(0.25) scale(0.168,0.101)" font-family="Liberation Serif" font-size="100" fill="#111" stroke="#111" stroke-width="0.7" text-rendering="geometricPrecision">T</text>
<text transform="translate(285.38,198.62) rotate(0.25) scale(0.181,0.104)" font-family="Liberation Serif" font-size="100" fill="#111" stroke="#111" stroke-width="0.7" text-rendering="geometricPrecision">e</text>
<text transform="translate(285.38,198.97) rotate(0.25) scale(0.181,0.104)" font-family="Liberation Serif" font-size="100" fill="#111" stroke="#111" stroke-width="0.7" text-rendering="geometricPrecision">e</text>
<text transform="translate(293.53,198.48) rotate(0.25) scale(0.136,0.099)" font-family="Liberation Serif" font-size="100" fill="#111" stroke="#111" stroke-width="0.7" text-rendering="geometricPrecision">V</text>
<text transform="translate(293.53,198.83) rotate(0.25) scale(0.136,0.099)" font-family="Liberation Serif" font-size="100" fill="#111" stroke="#111" stroke-width="0.7" text-rendering="geometricPrecision">V</text>
<text transform="translate(124.37,210.82) rotate(0.25) scale(0.175,0.099)" font-family="Liberation Serif" font-size="100" fill="#111" stroke="#111" stroke-width="0.7" text-rendering="geometricPrecision">P</text>
<text transform="translate(124.37,211.18) rotate(0.25) scale(0.175,0.099)" font-family="Liberation Serif" font-size="100" fill="#111" stroke="#111" stroke-width="0.7" text-rendering="geometricPrecision">P</text>
<text transform="translate(146.27,210.11) rotate(0.25) scale(0.184,0.095)" font-family="Liberation Serif" font-size="100" fill="#111" stroke="#111" stroke-width="0.7" text-rendering="geometricPrecision">(</text>
<text transform="translate(146.27,210.46) rotate(0.25) scale(0.184,0.095)" font-family="Liberation Serif" font-size="100" fill="#111" stroke="#111" stroke-width="0.7" text-rendering="geometricPrecision">(</text>
<text transform="translate(193.26,210.11) rotate(0.25) scale(0.167,0.095)" font-family="Liberation Serif" font-size="100" fill="#111" stroke="#111" stroke-width="0.7" text-rendering="geometricPrecision">)</text>
<text transform="translate(193.26,210.46) rotate(0.25) scale(0.167,0.095)" font-family="Liberation Serif" font-size="100" fill="#111" stroke="#111" stroke-width="0.7" text-rendering="geometricPrecision">)</text>
<text transform="translate(133.86,212.76) rotate(0.25) scale(0.197,0.092)" font-family="Liberation Serif" font-size="100" fill="#111" stroke="#111" stroke-width="1.0" text-rendering="geometricPrecision">c</text>
<text transform="translate(133.86,213.06) rotate(0.25) scale(0.197,0.092)" font-family="Liberation Serif" font-size="100" fill="#111" stroke="#111" stroke-width="1.0" text-rendering="geometricPrecision">c</text>
<text transform="translate(152.80,210.92) rotate(0.25) scale(0.198,0.094)" font-family="Liberation Serif" font-size="100" fill="#111" stroke="#111" stroke-width="0.7" text-rendering="geometricPrecision">4</text>
<text transform="translate(152.80,211.28) rotate(0.25) scale(0.198,0.094)" font-family="Liberation Serif" font-size="100" fill="#111" stroke="#111" stroke-width="0.7" text-rendering="geometricPrecision">4</text>
<text transform="translate(163.47,210.83) rotate(0.25) scale(0.206,0.092)" font-family="Liberation Serif" font-size="100" fill="#111" stroke="#111" stroke-width="0.7" text-rendering="geometricPrecision">3</text>
<text transform="translate(163.47,211.18) rotate(0.25) scale(0.206,0.092)" font-family="Liberation Serif" font-size="100" fill="#111" stroke="#111" stroke-width="0.7" text-rendering="geometricPrecision">3</text>
<text transform="translate(174.39,210.92) rotate(0.25) scale(0.179,0.094)" font-family="Liberation Serif" font-size="100" fill="#111" stroke="#111" stroke-width="0.7" text-rendering="geometricPrecision">1</text>
<text transform="translate(174.39,211.28) rotate(0.25) scale(0.179,0.094)" font-family="Liberation Serif" font-size="100" fill="#111" stroke="#111" stroke-width="0.7" text-rendering="geometricPrecision">1</text>
<text transform="translate(183.37,210.92) rotate(0.25) scale(0.230,0.094)" font-family="Liberation Serif" font-size="100" fill="#111" stroke="#111" stroke-width="0.7" text-rendering="geometricPrecision">2</text>
<text transform="translate(183.37,211.28) rotate(0.25) scale(0.230,0.094)" font-family="Liberation Serif" font-size="100" fill="#111" stroke="#111" stroke-width="0.7" text-rendering="geometricPrecision">2</text>
<text transform="translate(363.97,210.82) rotate(0.25) scale(0.175,0.099)" font-family="Liberation Serif" font-size="100" fill="#111" stroke="#111" stroke-width="0.7" text-rendering="geometricPrecision">P</text>
<text transform="translate(363.97,211.18) rotate(0.25) scale(0.175,0.099)" font-family="Liberation Serif" font-size="100" fill="#111" stroke="#111" stroke-width="0.7" text-rendering="geometricPrecision">P</text>
<text transform="translate(385.87,210.11) rotate(0.25) scale(0.184,0.095)" font-family="Liberation Serif" font-size="100" fill="#111" stroke="#111" stroke-width="0.7" text-rendering="geometricPrecision">(</text>
<text transform="translate(385.87,210.46) rotate(0.25) scale(0.184,0.095)" font-family="Liberation Serif" font-size="100" fill="#111" stroke="#111" stroke-width="0.7" text-rendering="geometricPrecision">(</text>
<text transform="translate(432.86,210.11) rotate(0.25) scale(0.167,0.095)" font-family="Liberation Serif" font-size="100" fill="#111" stroke="#111" stroke-width="0.7" text-rendering="geometricPrecision">)</text>
<text transform="translate(432.86,210.46) rotate(0.25) scale(0.167,0.095)" font-family="Liberation Serif" font-size="100" fill="#111" stroke="#111" stroke-width="0.7" text-rendering="geometricPrecision">)</text>
<text transform="translate(373.46,212.76) rotate(0.25) scale(0.197,0.092)" font-family="Liberation Serif" font-size="100" fill="#111" stroke="#111" stroke-width="1.0" text-rendering="geometricPrecision">c</text>
<text transform="translate(373.46,213.06) rotate(0.25) scale(0.197,0.092)" font-family="Liberation Serif" font-size="100" fill="#111" stroke="#111" stroke-width="1.0" text-rendering="geometricPrecision">c</text>
<text transform="translate(392.40,210.92) rotate(0.25) scale(0.198,0.094)" font-family="Liberation Serif" font-size="100" fill="#111" stroke="#111" stroke-width="0.7" text-rendering="geometricPrecision">4</text>
<text transform="translate(392.40,211.28) rotate(0.25) scale(0.198,0.094)" font-family="Liberation Serif" font-size="100" fill="#111" stroke="#111" stroke-width="0.7" text-rendering="geometricPrecision">4</text>
<text transform="translate(403.30,210.92) rotate(0.25) scale(0.198,0.094)" font-family="Liberation Serif" font-size="100" fill="#111" stroke="#111" stroke-width="0.7" text-rendering="geometricPrecision">4</text>
<text transform="translate(403.30,211.28) rotate(0.25) scale(0.198,0.094)" font-family="Liberation Serif" font-size="100" fill="#111" stroke="#111" stroke-width="0.7" text-rendering="geometricPrecision">4</text>
<text transform="translate(413.70,210.92) rotate(0.25) scale(0.198,0.094)" font-family="Liberation Serif" font-size="100" fill="#111" stroke="#111" stroke-width="0.7" text-rendering="geometricPrecision">4</text>
<text transform="translate(413.70,211.28) rotate(0.25) scale(0.198,0.094)" font-family="Liberation Serif" font-size="100" fill="#111" stroke="#111" stroke-width="0.7" text-rendering="geometricPrecision">4</text>
<text transform="translate(423.42,210.83) rotate(0.25) scale(0.207,0.092)" font-family="Liberation Serif" font-size="100" fill="#111" stroke="#111" stroke-width="0.7" text-rendering="geometricPrecision">0</text>
<text transform="translate(423.42,211.18) rotate(0.25) scale(0.207,0.092)" font-family="Liberation Serif" font-size="100" fill="#111" stroke="#111" stroke-width="0.7" text-rendering="geometricPrecision">0</text>
<text transform="translate(604.57,210.82) rotate(0.25) scale(0.175,0.099)" font-family="Liberation Serif" font-size="100" fill="#111" stroke="#111" stroke-width="0.7" text-rendering="geometricPrecision">P</text>
<text transform="translate(604.57,211.18) rotate(0.25) scale(0.175,0.099)" font-family="Liberation Serif" font-size="100" fill="#111" stroke="#111" stroke-width="0.7" text-rendering="geometricPrecision">P</text>
<text transform="translate(626.47,210.11) rotate(0.25) scale(0.184,0.095)" font-family="Liberation Serif" font-size="100" fill="#111" stroke="#111" stroke-width="0.7" text-rendering="geometricPrecision">(</text>
<text transform="translate(626.47,210.46) rotate(0.25) scale(0.184,0.095)" font-family="Liberation Serif" font-size="100" fill="#111" stroke="#111" stroke-width="0.7" text-rendering="geometricPrecision">(</text>
<text transform="translate(673.46,210.11) rotate(0.25) scale(0.167,0.095)" font-family="Liberation Serif" font-size="100" fill="#111" stroke="#111" stroke-width="0.7" text-rendering="geometricPrecision">)</text>
<text transform="translate(673.46,210.46) rotate(0.25) scale(0.167,0.095)" font-family="Liberation Serif" font-size="100" fill="#111" stroke="#111" stroke-width="0.7" text-rendering="geometricPrecision">)</text>
<text transform="translate(614.06,212.76) rotate(0.25) scale(0.197,0.092)" font-family="Liberation Serif" font-size="100" fill="#111" stroke="#111" stroke-width="1.0" text-rendering="geometricPrecision">c</text>
<text transform="translate(614.06,213.06) rotate(0.25) scale(0.197,0.092)" font-family="Liberation Serif" font-size="100" fill="#111" stroke="#111" stroke-width="1.0" text-rendering="geometricPrecision">c</text>
<text transform="translate(633.00,210.92) rotate(0.25) scale(0.198,0.094)" font-family="Liberation Serif" font-size="100" fill="#111" stroke="#111" stroke-width="0.7" text-rendering="geometricPrecision">4</text>
<text transform="translate(633.00,211.28) rotate(0.25) scale(0.198,0.094)" font-family="Liberation Serif" font-size="100" fill="#111" stroke="#111" stroke-width="0.7" text-rendering="geometricPrecision">4</text>
<text transform="translate(643.90,210.92) rotate(0.25) scale(0.198,0.094)" font-family="Liberation Serif" font-size="100" fill="#111" stroke="#111" stroke-width="0.7" text-rendering="geometricPrecision">4</text>
<text transform="translate(643.90,211.28) rotate(0.25) scale(0.198,0.094)" font-family="Liberation Serif" font-size="100" fill="#111" stroke="#111" stroke-width="0.7" text-rendering="geometricPrecision">4</text>
<text transform="translate(653.77,210.83) rotate(0.25) scale(0.214,0.093)" font-family="Liberation Serif" font-size="100" fill="#111" stroke="#111" stroke-width="0.7" text-rendering="geometricPrecision">5</text>
<text transform="translate(653.77,211.18) rotate(0.25) scale(0.214,0.093)" font-family="Liberation Serif" font-size="100" fill="#111" stroke="#111" stroke-width="0.7" text-rendering="geometricPrecision">5</text>
<text transform="translate(663.52,210.92) rotate(0.25) scale(0.212,0.095)" font-family="Liberation Serif" font-size="100" fill="#111" stroke="#111" stroke-width="0.7" text-rendering="geometricPrecision">7</text>
<text transform="translate(663.52,211.28) rotate(0.25) scale(0.212,0.095)" font-family="Liberation Serif" font-size="100" fill="#111" stroke="#111" stroke-width="0.7" text-rendering="geometricPrecision">7</text>
<text transform="translate(124.37,346.02) rotate(0.25) scale(0.175,0.099)" font-family="Liberation Serif" font-size="100" fill="#111" stroke="#111" stroke-width="0.7" text-rendering="geometricPrecision">P</text>
<text transform="translate(124.37,346.38) rotate(0.25) scale(0.175,0.099)" font-family="Liberation Serif" font-size="100" fill="#111" stroke="#111" stroke-width="0.7" text-rendering="geometricPrecision">P</text>
<text transform="translate(146.27,345.31) rotate(0.25) scale(0.184,0.095)" font-family="Liberation Serif" font-size="100" fill="#111" stroke="#111" stroke-width="0.7" text-rendering="geometricPrecision">(</text>
<text transform="translate(146.27,345.66) rotate(0.25) scale(0.184,0.095)" font-family="Liberation Serif" font-size="100" fill="#111" stroke="#111" stroke-width="0.7" text-rendering="geometricPrecision">(</text>
<text transform="translate(193.26,345.31) rotate(0.25) scale(0.167,0.095)" font-family="Liberation Serif" font-size="100" fill="#111" stroke="#111" stroke-width="0.7" text-rendering="geometricPrecision">)</text>
<text transform="translate(193.26,345.66) rotate(0.25) scale(0.167,0.095)" font-family="Liberation Serif" font-size="100" fill="#111" stroke="#111" stroke-width="0.7" text-rendering="geometricPrecision">)</text>
<text transform="translate(133.86,347.96) rotate(0.25) scale(0.197,0.092)" font-family="Liberation Serif" font-size="100" fill="#111" stroke="#111" stroke-width="1.0" text-rendering="geometricPrecision">c</text>
<text transform="translate(133.86,348.26) rotate(0.25) scale(0.197,0.092)" font-family="Liberation Serif" font-size="100" fill="#111" stroke="#111" stroke-width="1.0" text-rendering="geometricPrecision">c</text>
<text transform="translate(152.80,346.12) rotate(0.25) scale(0.198,0.094)" font-family="Liberation Serif" font-size="100" fill="#111" stroke="#111" stroke-width="0.7" text-rendering="geometricPrecision">4</text>
<text transform="translate(152.80,346.47) rotate(0.25) scale(0.198,0.094)" font-family="Liberation Serif" font-size="100" fill="#111" stroke="#111" stroke-width="0.7" text-rendering="geometricPrecision">4</text>
<text transform="translate(163.47,346.03) rotate(0.25) scale(0.206,0.092)" font-family="Liberation Serif" font-size="100" fill="#111" stroke="#111" stroke-width="0.7" text-rendering="geometricPrecision">3</text>
<text transform="translate(163.47,346.38) rotate(0.25) scale(0.206,0.092)" font-family="Liberation Serif" font-size="100" fill="#111" stroke="#111" stroke-width="0.7" text-rendering="geometricPrecision">3</text>
<text transform="translate(174.39,346.12) rotate(0.25) scale(0.179,0.094)" font-family="Liberation Serif" font-size="100" fill="#111" stroke="#111" stroke-width="0.7" text-rendering="geometricPrecision">1</text>
<text transform="translate(174.39,346.47) rotate(0.25) scale(0.179,0.094)" font-family="Liberation Serif" font-size="100" fill="#111" stroke="#111" stroke-width="0.7" text-rendering="geometricPrecision">1</text>
<text transform="translate(183.37,346.12) rotate(0.25) scale(0.230,0.094)" font-family="Liberation Serif" font-size="100" fill="#111" stroke="#111" stroke-width="0.7" text-rendering="geometricPrecision">2</text>
<text transform="translate(183.37,346.47) rotate(0.25) scale(0.230,0.094)" font-family="Liberation Serif" font-size="100" fill="#111" stroke="#111" stroke-width="0.7" text-rendering="geometricPrecision">2</text>
<text transform="translate(363.97,336.82) rotate(0.25) scale(0.175,0.099)" font-family="Liberation Serif" font-size="100" fill="#111" stroke="#111" stroke-width="0.7" text-rendering="geometricPrecision">P</text>
<text transform="translate(363.97,337.18) rotate(0.25) scale(0.175,0.099)" font-family="Liberation Serif" font-size="100" fill="#111" stroke="#111" stroke-width="0.7" text-rendering="geometricPrecision">P</text>
<text transform="translate(385.87,336.11) rotate(0.25) scale(0.184,0.095)" font-family="Liberation Serif" font-size="100" fill="#111" stroke="#111" stroke-width="0.7" text-rendering="geometricPrecision">(</text>
<text transform="translate(385.87,336.46) rotate(0.25) scale(0.184,0.095)" font-family="Liberation Serif" font-size="100" fill="#111" stroke="#111" stroke-width="0.7" text-rendering="geometricPrecision">(</text>
<text transform="translate(432.86,336.11) rotate(0.25) scale(0.167,0.095)" font-family="Liberation Serif" font-size="100" fill="#111" stroke="#111" stroke-width="0.7" text-rendering="geometricPrecision">)</text>
<text transform="translate(432.86,336.46) rotate(0.25) scale(0.167,0.095)" font-family="Liberation Serif" font-size="100" fill="#111" stroke="#111" stroke-width="0.7" text-rendering="geometricPrecision">)</text>
<text transform="translate(373.46,338.76) rotate(0.25) scale(0.197,0.092)" font-family="Liberation Serif" font-size="100" fill="#111" stroke="#111" stroke-width="1.0" text-rendering="geometricPrecision">c</text>
<text transform="translate(373.46,339.06) rotate(0.25) scale(0.197,0.092)" font-family="Liberation Serif" font-size="100" fill="#111" stroke="#111" stroke-width="1.0" text-rendering="geometricPrecision">c</text>
<text transform="translate(392.40,336.93) rotate(0.25) scale(0.198,0.094)" font-family="Liberation Serif" font-size="100" fill="#111" stroke="#111" stroke-width="0.7" text-rendering="geometricPrecision">4</text>
<text transform="translate(392.40,337.28) rotate(0.25) scale(0.198,0.094)" font-family="Liberation Serif" font-size="100" fill="#111" stroke="#111" stroke-width="0.7" text-rendering="geometricPrecision">4</text>
<text transform="translate(403.30,336.93) rotate(0.25) scale(0.198,0.094)" font-family="Liberation Serif" font-size="100" fill="#111" stroke="#111" stroke-width="0.7" text-rendering="geometricPrecision">4</text>
<text transform="translate(403.30,337.28) rotate(0.25) scale(0.198,0.094)" font-family="Liberation Serif" font-size="100" fill="#111" stroke="#111" stroke-width="0.7" text-rendering="geometricPrecision">4</text>
<text transform="translate(413.70,336.93) rotate(0.25) scale(0.198,0.094)" font-family="Liberation Serif" font-size="100" fill="#111" stroke="#111" stroke-width="0.7" text-rendering="geometricPrecision">4</text>
<text transform="translate(413.70,337.28) rotate(0.25) scale(0.198,0.094)" font-family="Liberation Serif" font-size="100" fill="#111" stroke="#111" stroke-width="0.7" text-rendering="geometricPrecision">4</text>
<text transform="translate(423.42,336.83) rotate(0.25) scale(0.207,0.092)" font-family="Liberation Serif" font-size="100" fill="#111" stroke="#111" stroke-width="0.7" text-rendering="geometricPrecision">0</text>
<text transform="translate(423.42,337.18) rotate(0.25) scale(0.207,0.092)" font-family="Liberation Serif" font-size="100" fill="#111" stroke="#111" stroke-width="0.7" text-rendering="geometricPrecision">0</text>
<text transform="translate(604.77,336.82) rotate(0.25) scale(0.175,0.099)" font-family="Liberation Serif" font-size="100" fill="#111" stroke="#111" stroke-width="0.7" text-rendering="geometricPrecision">P</text>
<text transform="translate(604.77,337.18) rotate(0.25) scale(0.175,0.099)" font-family="Liberation Serif" font-size="100" fill="#111" stroke="#111" stroke-width="0.7" text-rendering="geometricPrecision">P</text>
<text transform="translate(626.67,336.11) rotate(0.25) scale(0.184,0.095)" font-family="Liberation Serif" font-size="100" fill="#111" stroke="#111" stroke-width="0.7" text-rendering="geometricPrecision">(</text>
<text transform="translate(626.67,336.46) rotate(0.25) scale(0.184,0.095)" font-family="Liberation Serif" font-size="100" fill="#111" stroke="#111" stroke-width="0.7" text-rendering="geometricPrecision">(</text>
<text transform="translate(673.66,336.11) rotate(0.25) scale(0.167,0.095)" font-family="Liberation Serif" font-size="100" fill="#111" stroke="#111" stroke-width="0.7" text-rendering="geometricPrecision">)</text>
<text transform="translate(673.66,336.46) rotate(0.25) scale(0.167,0.095)" font-family="Liberation Serif" font-size="100" fill="#111" stroke="#111" stroke-width="0.7" text-rendering="geometricPrecision">)</text>
<text transform="translate(614.26,338.76) rotate(0.25) scale(0.197,0.092)" font-family="Liberation Serif" font-size="100" fill="#111" stroke="#111" stroke-width="1.0" text-rendering="geometricPrecision">c</text>
<text transform="translate(614.26,339.06) rotate(0.25) scale(0.197,0.092)" font-family="Liberation Serif" font-size="100" fill="#111" stroke="#111" stroke-width="1.0" text-rendering="geometricPrecision">c</text>
<text transform="translate(633.20,336.93) rotate(0.25) scale(0.198,0.094)" font-family="Liberation Serif" font-size="100" fill="#111" stroke="#111" stroke-width="0.7" text-rendering="geometricPrecision">4</text>
<text transform="translate(633.20,337.28) rotate(0.25) scale(0.198,0.094)" font-family="Liberation Serif" font-size="100" fill="#111" stroke="#111" stroke-width="0.7" text-rendering="geometricPrecision">4</text>
<text transform="translate(644.10,336.93) rotate(0.25) scale(0.198,0.094)" font-family="Liberation Serif" font-size="100" fill="#111" stroke="#111" stroke-width="0.7" text-rendering="geometricPrecision">4</text>
<text transform="translate(644.10,337.28) rotate(0.25) scale(0.198,0.094)" font-family="Liberation Serif" font-size="100" fill="#111" stroke="#111" stroke-width="0.7" text-rendering="geometricPrecision">4</text>
<text transform="translate(653.97,336.83) rotate(0.25) scale(0.214,0.093)" font-family="Liberation Serif" font-size="100" fill="#111" stroke="#111" stroke-width="0.7" text-rendering="geometricPrecision">5</text>
<text transform="translate(653.97,337.18) rotate(0.25) scale(0.214,0.093)" font-family="Liberation Serif" font-size="100" fill="#111" stroke="#111" stroke-width="0.7" text-rendering="geometricPrecision">5</text>
<text transform="translate(663.72,336.93) rotate(0.25) scale(0.212,0.095)" font-family="Liberation Serif" font-size="100" fill="#111" stroke="#111" stroke-width="0.7" text-rendering="geometricPrecision">7</text>
<text transform="translate(663.72,337.28) rotate(0.25) scale(0.212,0.095)" font-family="Liberation Serif" font-size="100" fill="#111" stroke="#111" stroke-width="0.7" text-rendering="geometricPrecision">7</text>
<path d="M113.30,329.30 L115.30,328.90 L118.50,332.70" fill="none" stroke="#111" stroke-width="1.25" stroke-linejoin="round"/>
<path d="M118.30,332.80 L123.00,325.30" fill="none" stroke="#111" stroke-width="1.1" stroke-linecap="round"/>
<path d="M122.80,325.30 L132.60,325.30" fill="none" stroke="#222" stroke-width="0.85"/>
<text transform="translate(124.23,332.01) rotate(0.25) scale(0.192,0.094)" font-family="Liberation Serif" font-size="100" fill="#111" stroke="#111" stroke-width="0.5" text-rendering="geometricPrecision">s</text>
<text transform="translate(124.23,332.21) rotate(0.25) scale(0.192,0.094)" font-family="Liberation Serif" font-size="100" fill="#111" stroke="#111" stroke-width="0.5" text-rendering="geometricPrecision">s</text>
<text transform="translate(137.05,332.97) rotate(0.25) scale(0.249,0.112)" font-family="Liberation Serif" font-size="100" fill="#111" text-rendering="geometricPrecision">=</text>
<text transform="translate(137.05,333.27) rotate(0.25) scale(0.249,0.112)" font-family="Liberation Serif" font-size="100" fill="#111" text-rendering="geometricPrecision">=</text>
<text transform="translate(156.31,332.12) rotate(0.25) scale(0.182,0.100)" font-family="Liberation Serif" font-size="100" fill="#111" stroke="#111" stroke-width="0.7" text-rendering="geometricPrecision">1</text>
<text transform="translate(156.31,332.48) rotate(0.25) scale(0.182,0.100)" font-family="Liberation Serif" font-size="100" fill="#111" stroke="#111" stroke-width="0.7" text-rendering="geometricPrecision">1</text>
<text transform="translate(166.26,332.03) rotate(0.25) scale(0.218,0.098)" font-family="Liberation Serif" font-size="100" fill="#111" stroke="#111" stroke-width="0.7" text-rendering="geometricPrecision">3</text>
<text transform="translate(166.26,332.38) rotate(0.25) scale(0.218,0.098)" font-family="Liberation Serif" font-size="100" fill="#111" stroke="#111" stroke-width="0.7" text-rendering="geometricPrecision">3</text>
<text transform="translate(177.38,332.12) rotate(0.25) scale(0.185,0.101)" font-family="Liberation Serif" font-size="100" fill="#111" stroke="#111" stroke-width="0.7" text-rendering="geometricPrecision">T</text>
<text transform="translate(177.38,332.48) rotate(0.25) scale(0.185,0.101)" font-family="Liberation Serif" font-size="100" fill="#111" stroke="#111" stroke-width="0.7" text-rendering="geometricPrecision">T</text>
<text transform="translate(188.66,332.12) rotate(0.25) scale(0.184,0.104)" font-family="Liberation Serif" font-size="100" fill="#111" stroke="#111" stroke-width="0.7" text-rendering="geometricPrecision">e</text>
<text transform="translate(188.66,332.47) rotate(0.25) scale(0.184,0.104)" font-family="Liberation Serif" font-size="100" fill="#111" stroke="#111" stroke-width="0.7" text-rendering="geometricPrecision">e</text>
<text transform="translate(196.64,331.98) rotate(0.25) scale(0.132,0.099)" font-family="Liberation Serif" font-size="100" fill="#111" stroke="#111" stroke-width="0.7" text-rendering="geometricPrecision">V</text>
<text transform="translate(196.64,332.33) rotate(0.25) scale(0.132,0.099)" font-family="Liberation Serif" font-size="100" fill="#111" stroke="#111" stroke-width="0.7" text-rendering="geometricPrecision">V</text>
<text transform="translate(275.86,300.41) rotate(0.25) scale(0.141,0.095)" font-family="Liberation Serif" font-size="100" fill="#111" stroke="#111" stroke-width="0.7" text-rendering="geometricPrecision">(</text>
<text transform="translate(275.86,300.76) rotate(0.25) scale(0.141,0.095)" font-family="Liberation Serif" font-size="100" fill="#111" stroke="#111" stroke-width="0.7" text-rendering="geometricPrecision">(</text>
<text transform="translate(282.47,301.31) rotate(0.25) scale(0.208,0.115)" font-family="Liberation Serif" font-size="100" fill="#111" stroke="#111" stroke-width="0.7" text-rendering="geometricPrecision">a</text>
<text transform="translate(282.47,301.66) rotate(0.25) scale(0.208,0.115)" font-family="Liberation Serif" font-size="100" fill="#111" stroke="#111" stroke-width="0.7" text-rendering="geometricPrecision">a</text>
<text transform="translate(293.71,300.41) rotate(0.25) scale(0.151,0.095)" font-family="Liberation Serif" font-size="100" fill="#111" stroke="#111" stroke-width="0.7" text-rendering="geometricPrecision">)</text>
<text transform="translate(293.71,300.76) rotate(0.25) scale(0.151,0.095)" font-family="Liberation Serif" font-size="100" fill="#111" stroke="#111" stroke-width="0.7" text-rendering="geometricPrecision">)</text>
<text transform="translate(516.36,300.91) rotate(0.25) scale(0.141,0.095)" font-family="Liberation Serif" font-size="100" fill="#111" stroke="#111" stroke-width="0.7" text-rendering="geometricPrecision">(</text>
<text transform="translate(516.36,301.26) rotate(0.25) scale(0.141,0.095)" font-family="Liberation Serif" font-size="100" fill="#111" stroke="#111" stroke-width="0.7" text-rendering="geometricPrecision">(</text>
<text transform="translate(523.70,301.82) rotate(0.25) scale(0.158,0.102)" font-family="Liberation Serif" font-size="100" fill="#111" stroke="#111" stroke-width="0.7" text-rendering="geometricPrecision">b</text>
<text transform="translate(523.70,302.17) rotate(0.25) scale(0.158,0.102)" font-family="Liberation Serif" font-size="100" fill="#111" stroke="#111" stroke-width="0.7" text-rendering="geometricPrecision">b</text>
<text transform="translate(533.76,300.91) rotate(0.25) scale(0.151,0.095)" font-family="Liberation Serif" font-size="100" fill="#111" stroke="#111" stroke-width="0.7" text-rendering="geometricPrecision">)</text>
<text transform="translate(533.76,301.26) rotate(0.25) scale(0.151,0.095)" font-family="Liberation Serif" font-size="100" fill="#111" stroke="#111" stroke-width="0.7" text-rendering="geometricPrecision">)</text>
<text transform="translate(276.06,426.81) rotate(0.25) scale(0.141,0.095)" font-family="Liberation Serif" font-size="100" fill="#111" stroke="#111" stroke-width="0.7" text-rendering="geometricPrecision">(</text>
<text transform="translate(276.06,427.16) rotate(0.25) scale(0.141,0.095)" font-family="Liberation Serif" font-size="100" fill="#111" stroke="#111" stroke-width="0.7" text-rendering="geometricPrecision">(</text>
<text transform="translate(282.80,427.72) rotate(0.25) scale(0.172,0.102)" font-family="Liberation Serif" font-size="100" fill="#111" stroke="#111" stroke-width="0.7" text-rendering="geometricPrecision">d</text>
<text transform="translate(282.80,428.07) rotate(0.25) scale(0.172,0.102)" font-family="Liberation Serif" font-size="100" fill="#111" stroke="#111" stroke-width="0.7" text-rendering="geometricPrecision">d</text>
<text transform="translate(293.71,426.81) rotate(0.25) scale(0.151,0.095)" font-family="Liberation Serif" font-size="100" fill="#111" stroke="#111" stroke-width="0.7" text-rendering="geometricPrecision">)</text>
<text transform="translate(293.71,427.16) rotate(0.25) scale(0.151,0.095)" font-family="Liberation Serif" font-size="100" fill="#111" stroke="#111" stroke-width="0.7" text-rendering="geometricPrecision">)</text>
<text transform="translate(516.26,427.01) rotate(0.25) scale(0.141,0.095)" font-family="Liberation Serif" font-size="100" fill="#111" stroke="#111" stroke-width="0.7" text-rendering="geometricPrecision">(</text>
<text transform="translate(516.26,427.36) rotate(0.25) scale(0.141,0.095)" font-family="Liberation Serif" font-size="100" fill="#111" stroke="#111" stroke-width="0.7" text-rendering="geometricPrecision">(</text>
<text transform="translate(522.78,427.91) rotate(0.25) scale(0.205,0.115)" font-family="Liberation Serif" font-size="100" fill="#111" stroke="#111" stroke-width="0.7" text-rendering="geometricPrecision">e</text>
<text transform="translate(522.78,428.26) rotate(0.25) scale(0.205,0.115)" font-family="Liberation Serif" font-size="100" fill="#111" stroke="#111" stroke-width="0.7" text-rendering="geometricPrecision">e</text>
<text transform="translate(533.81,427.01) rotate(0.25) scale(0.151,0.095)" font-family="Liberation Serif" font-size="100" fill="#111" stroke="#111" stroke-width="0.7" text-rendering="geometricPrecision">)</text>
<text transform="translate(533.81,427.36) rotate(0.25) scale(0.151,0.095)" font-family="Liberation Serif" font-size="100" fill="#111" stroke="#111" stroke-width="0.7" text-rendering="geometricPrecision">)</text>
<text transform="translate(125.93,224.83) rotate(0.25) scale(0.157,0.098)" font-family="Liberation Serif" font-size="100" fill="#484848" text-rendering="geometricPrecision">P</text>
<text transform="translate(125.93,224.97) rotate(0.25) scale(0.157,0.098)" font-family="Liberation Serif" font-size="100" fill="#484848" text-rendering="geometricPrecision">P</text>
<text transform="translate(134.82,221.73) rotate(0.25) scale(0.097,0.073)" font-family="Liberation Serif" font-size="100" fill="#2a2a2a" text-rendering="geometricPrecision">+</text>
<text transform="translate(134.82,221.93) rotate(0.25) scale(0.097,0.073)" font-family="Liberation Serif" font-size="100" fill="#2a2a2a" text-rendering="geometricPrecision">+</text>
<text transform="translate(134.85,226.34) rotate(0.25) scale(0.120,0.062)" font-family="Liberation Serif" font-size="100" fill="#2a2a2a" text-rendering="geometricPrecision">c</text>
<text transform="translate(134.85,226.54) rotate(0.25) scale(0.120,0.062)" font-family="Liberation Serif" font-size="100" fill="#2a2a2a" text-rendering="geometricPrecision">c</text>
<text transform="translate(140.52,226.15) rotate(0.25) scale(0.121,0.059)" font-family="Liberation Serif" font-size="100" fill="#2a2a2a" text-rendering="geometricPrecision">p</text>
<text transform="translate(140.52,226.35) rotate(0.25) scale(0.121,0.059)" font-family="Liberation Serif" font-size="100" fill="#2a2a2a" text-rendering="geometricPrecision">p</text>
<text transform="translate(180.13,224.83) rotate(0.25) scale(0.157,0.098)" font-family="Liberation Serif" font-size="100" fill="#484848" text-rendering="geometricPrecision">P</text>
<text transform="translate(180.13,224.97) rotate(0.25) scale(0.157,0.098)" font-family="Liberation Serif" font-size="100" fill="#484848" text-rendering="geometricPrecision">P</text>
<text transform="translate(189.03,223.71) rotate(0.25) scale(0.095,0.140)" font-family="Liberation Serif" font-size="100" fill="#2a2a2a" text-rendering="geometricPrecision">−</text>
<text transform="translate(189.05,226.34) rotate(0.25) scale(0.120,0.062)" font-family="Liberation Serif" font-size="100" fill="#2a2a2a" text-rendering="geometricPrecision">c</text>
<text transform="translate(189.05,226.54) rotate(0.25) scale(0.120,0.062)" font-family="Liberation Serif" font-size="100" fill="#2a2a2a" text-rendering="geometricPrecision">c</text>
<text transform="translate(194.72,226.15) rotate(0.25) scale(0.121,0.059)" font-family="Liberation Serif" font-size="100" fill="#2a2a2a" text-rendering="geometricPrecision">p</text>
<text transform="translate(194.72,226.35) rotate(0.25) scale(0.121,0.059)" font-family="Liberation Serif" font-size="100" fill="#2a2a2a" text-rendering="geometricPrecision">p</text>
<text transform="translate(125.93,237.53) rotate(0.25) scale(0.157,0.098)" font-family="Liberation Serif" font-size="100" fill="#484848" text-rendering="geometricPrecision">P</text>
<text transform="translate(125.93,237.67) rotate(0.25) scale(0.157,0.098)" font-family="Liberation Serif" font-size="100" fill="#484848" text-rendering="geometricPrecision">P</text>
<text transform="translate(134.82,234.43) rotate(0.25) scale(0.097,0.073)" font-family="Liberation Serif" font-size="100" fill="#2a2a2a" text-rendering="geometricPrecision">+</text>
<text transform="translate(134.82,234.63) rotate(0.25) scale(0.097,0.073)" font-family="Liberation Serif" font-size="100" fill="#2a2a2a" text-rendering="geometricPrecision">+</text>
<text transform="translate(134.85,239.04) rotate(0.25) scale(0.120,0.062)" font-family="Liberation Serif" font-size="100" fill="#2a2a2a" text-rendering="geometricPrecision">c</text>
<text transform="translate(134.85,239.24) rotate(0.25) scale(0.120,0.062)" font-family="Liberation Serif" font-size="100" fill="#2a2a2a" text-rendering="geometricPrecision">c</text>
<text transform="translate(140.44,239.10) rotate(0.25) scale(0.117,0.064)" font-family="Liberation Serif" font-size="100" fill="#2a2a2a" text-rendering="geometricPrecision">n</text>
<text transform="translate(140.44,239.30) rotate(0.25) scale(0.117,0.064)" font-family="Liberation Serif" font-size="100" fill="#2a2a2a" text-rendering="geometricPrecision">n</text>
<text transform="translate(180.13,237.53) rotate(0.25) scale(0.157,0.098)" font-family="Liberation Serif" font-size="100" fill="#484848" text-rendering="geometricPrecision">P</text>
<text transform="translate(180.13,237.67) rotate(0.25) scale(0.157,0.098)" font-family="Liberation Serif" font-size="100" fill="#484848" text-rendering="geometricPrecision">P</text>
<text transform="translate(189.03,236.41) rotate(0.25) scale(0.095,0.140)" font-family="Liberation Serif" font-size="100" fill="#2a2a2a" text-rendering="geometricPrecision">−</text>
<text transform="translate(189.05,239.04) rotate(0.25) scale(0.120,0.062)" font-family="Liberation Serif" font-size="100" fill="#2a2a2a" text-rendering="geometricPrecision">c</text>
<text transform="translate(189.05,239.24) rotate(0.25) scale(0.120,0.062)" font-family="Liberation Serif" font-size="100" fill="#2a2a2a" text-rendering="geometricPrecision">c</text>
<text transform="translate(194.64,239.10) rotate(0.25) scale(0.117,0.064)" font-family="Liberation Serif" font-size="100" fill="#2a2a2a" text-rendering="geometricPrecision">n</text>
<text transform="translate(194.64,239.30) rotate(0.25) scale(0.117,0.064)" font-family="Liberation Serif" font-size="100" fill="#2a2a2a" text-rendering="geometricPrecision">n</text>
<text transform="translate(125.93,249.93) rotate(0.25) scale(0.157,0.098)" font-family="Liberation Serif" font-size="100" fill="#484848" text-rendering="geometricPrecision">P</text>
<text transform="translate(125.93,250.07) rotate(0.25) scale(0.157,0.098)" font-family="Liberation Serif" font-size="100" fill="#484848" text-rendering="geometricPrecision">P</text>
<text transform="translate(134.82,246.83) rotate(0.25) scale(0.097,0.073)" font-family="Liberation Serif" font-size="100" fill="#2a2a2a" text-rendering="geometricPrecision">+</text>
<text transform="translate(134.82,247.03) rotate(0.25) scale(0.097,0.073)" font-family="Liberation Serif" font-size="100" fill="#2a2a2a" text-rendering="geometricPrecision">+</text>
<text transform="translate(134.85,251.44) rotate(0.25) scale(0.120,0.062)" font-family="Liberation Serif" font-size="100" fill="#2a2a2a" text-rendering="geometricPrecision">c</text>
<text transform="translate(134.85,251.64) rotate(0.25) scale(0.120,0.062)" font-family="Liberation Serif" font-size="100" fill="#2a2a2a" text-rendering="geometricPrecision">c</text>
<text transform="translate(140.24,251.50) rotate(0.25) scale(0.082,0.064)" font-family="Liberation Serif" font-size="100" fill="#2a2a2a" text-rendering="geometricPrecision">m</text>
<text transform="translate(140.24,251.70) rotate(0.25) scale(0.082,0.064)" font-family="Liberation Serif" font-size="100" fill="#2a2a2a" text-rendering="geometricPrecision">m</text>
<text transform="translate(180.13,249.93) rotate(0.25) scale(0.157,0.098)" font-family="Liberation Serif" font-size="100" fill="#484848" text-rendering="geometricPrecision">P</text>
<text transform="translate(180.13,250.07) rotate(0.25) scale(0.157,0.098)" font-family="Liberation Serif" font-size="100" fill="#484848" text-rendering="geometricPrecision">P</text>
<text transform="translate(189.03,248.81) rotate(0.25) scale(0.095,0.140)" font-family="Liberation Serif" font-size="100" fill="#2a2a2a" text-rendering="geometricPrecision">−</text>
<text transform="translate(189.05,251.44) rotate(0.25) scale(0.120,0.062)" font-family="Liberation Serif" font-size="100" fill="#2a2a2a" text-rendering="geometricPrecision">c</text>
<text transform="translate(189.05,251.64) rotate(0.25) scale(0.120,0.062)" font-family="Liberation Serif" font-size="100" fill="#2a2a2a" text-rendering="geometricPrecision">c</text>
<text transform="translate(194.44,251.50) rotate(0.25) scale(0.082,0.064)" font-family="Liberation Serif" font-size="100" fill="#2a2a2a" text-rendering="geometricPrecision">m</text>
<text transform="translate(194.44,251.70) rotate(0.25) scale(0.082,0.064)" font-family="Liberation Serif" font-size="100" fill="#2a2a2a" text-rendering="geometricPrecision">m</text>
<rect x="106.3" y="220.1" width="6.3" height="3.4" fill="none" stroke="#444" stroke-width="0.7"/>
<ellipse cx="163.4" cy="221.7" rx="3.5" ry="1.9" fill="#000"/>
<path d="M105.2,236.4 L109.5,231.8 L113.8,236.4 Z" fill="none" stroke="#ff3030" stroke-width="0.8"/>
<path d="M159.5,232.8 L167.3,232.8 L163.4,236.9 Z" fill="#ff0000"/>
<path d="M104.7,246.5 L109.6,243.8 L114.5,246.5 L109.6,249.2 Z" fill="none" stroke="#3030ff" stroke-width="0.8"/>
<polygon points="163.40,244.10 164.34,245.82 167.01,245.90 164.92,247.04 165.63,248.80 163.40,247.79 161.17,248.80 161.88,247.04 159.79,245.90 162.46,245.82" fill="#0000ff"/>
</svg>
</body></html>
